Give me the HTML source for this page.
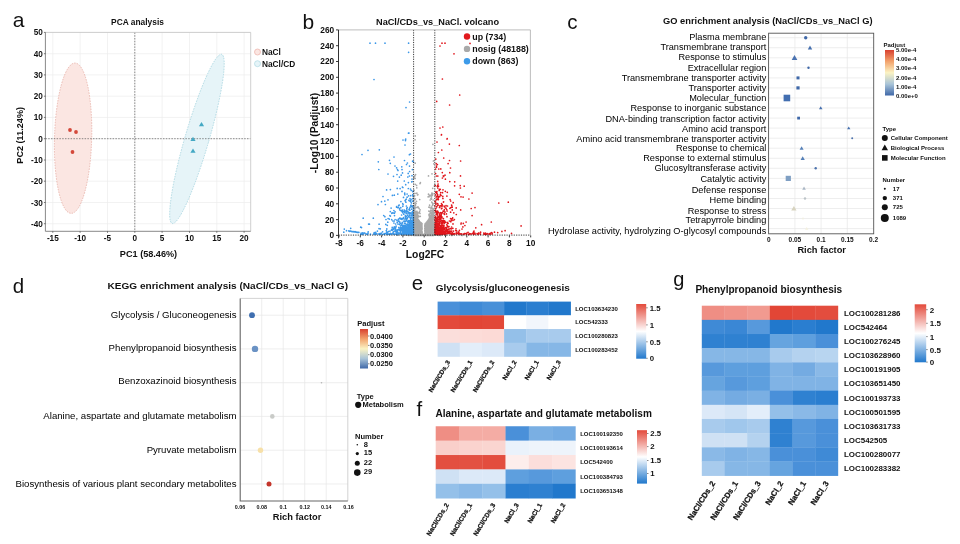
<!DOCTYPE html>
<html lang="en"><head><meta charset="utf-8"><title>Figure</title>
<style>
html,body{margin:0;padding:0;background:#fff;}
body{width:960px;height:544px;overflow:hidden;}
svg{display:block;font-family:"Liberation Sans",Arial,sans-serif;}
</style></head><body>
<svg width="960" height="544" viewBox="0 0 960 544">
<rect width="960" height="544" fill="#fff"/>
<defs>
<linearGradient id="gc" x1="0" y1="0" x2="0" y2="1"><stop offset="0" stop-color="#d8402f"/><stop offset=".25" stop-color="#f2a26c"/><stop offset=".5" stop-color="#fbf3c4"/><stop offset=".75" stop-color="#a9c4d8"/><stop offset="1" stop-color="#3f68a8"/></linearGradient>
<linearGradient id="gd" x1="0" y1="0" x2="0" y2="1"><stop offset="0" stop-color="#d8402f"/><stop offset=".25" stop-color="#f2a26c"/><stop offset=".5" stop-color="#fbf3c4"/><stop offset=".75" stop-color="#a9c4d8"/><stop offset="1" stop-color="#3f68a8"/></linearGradient>
<linearGradient id="gh" x1="0" y1="0" x2="0" y2="1"><stop offset="0" stop-color="#e34a3b"/><stop offset=".5" stop-color="#ffffff"/><stop offset="1" stop-color="#2178cc"/></linearGradient>
</defs>
<text x="12.8" y="26.8" font-size="21" fill="#111">a</text>
<text x="137.5" y="25.3" font-size="8.4" font-weight="bold" text-anchor="middle" fill="#111">PCA analysis</text>
<rect x="45.4" y="32.4" width="205.29999999999998" height="198.9" fill="#fff" stroke="none"/>
<path d="M52.8 32.4V231.3M80.1 32.4V231.3M107.5 32.4V231.3M134.8 32.4V231.3M162.1 32.4V231.3M189.5 32.4V231.3M216.8 32.4V231.3M244.1 32.4V231.3M45.4 223.7H250.7M45.4 202.5H250.7M45.4 181.2H250.7M45.4 160.0H250.7M45.4 138.7H250.7M45.4 117.4H250.7M45.4 96.2H250.7M45.4 74.9H250.7M45.4 53.7H250.7M45.4 32.4H250.7" stroke="#ececec" stroke-width=".7" fill="none"/>
<ellipse cx="73.1" cy="138.2" rx="18.6" ry="75.2" transform="rotate(1.5 73.1 138.2)" fill="#fbe6e2" stroke="#e2a49b" stroke-width=".7" stroke-dasharray="1.5 1.2"/>
<ellipse cx="196.95" cy="138.9" rx="12" ry="88.1" transform="rotate(16.3 196.95 138.9)" fill="#e6f4f8" stroke="#9ed0dc" stroke-width=".7" stroke-dasharray="1.5 1.2"/>
<path d="M134.8 32.4V231.3M45.4 138.7H250.7" stroke="#5a5a5a" stroke-width=".7" stroke-dasharray="1.5 1.3" fill="none"/>
<path d="M45.4 32.4H250.7V231.3" stroke="#c4c4c4" stroke-width=".8" fill="none"/>
<path d="M45.4 32.4V231.3H250.7" stroke="#6a6a6a" stroke-width=".8" fill="none"/>
<text x="52.8" y="241" font-size="8.2" font-weight="bold" text-anchor="middle" fill="#111">-15</text>
<text x="80.1" y="241" font-size="8.2" font-weight="bold" text-anchor="middle" fill="#111">-10</text>
<text x="107.5" y="241" font-size="8.2" font-weight="bold" text-anchor="middle" fill="#111">-5</text>
<text x="134.8" y="241" font-size="8.2" font-weight="bold" text-anchor="middle" fill="#111">0</text>
<text x="162.1" y="241" font-size="8.2" font-weight="bold" text-anchor="middle" fill="#111">5</text>
<text x="189.5" y="241" font-size="8.2" font-weight="bold" text-anchor="middle" fill="#111">10</text>
<text x="216.8" y="241" font-size="8.2" font-weight="bold" text-anchor="middle" fill="#111">15</text>
<text x="244.1" y="241" font-size="8.2" font-weight="bold" text-anchor="middle" fill="#111">20</text>
<text x="42.8" y="226.7" font-size="8.2" font-weight="bold" text-anchor="end" fill="#111">-40</text>
<text x="42.8" y="205.5" font-size="8.2" font-weight="bold" text-anchor="end" fill="#111">-30</text>
<text x="42.8" y="184.2" font-size="8.2" font-weight="bold" text-anchor="end" fill="#111">-20</text>
<text x="42.8" y="163.0" font-size="8.2" font-weight="bold" text-anchor="end" fill="#111">-10</text>
<text x="42.8" y="141.7" font-size="8.2" font-weight="bold" text-anchor="end" fill="#111">0</text>
<text x="42.8" y="120.4" font-size="8.2" font-weight="bold" text-anchor="end" fill="#111">10</text>
<text x="42.8" y="99.2" font-size="8.2" font-weight="bold" text-anchor="end" fill="#111">20</text>
<text x="42.8" y="77.9" font-size="8.2" font-weight="bold" text-anchor="end" fill="#111">30</text>
<text x="42.8" y="56.7" font-size="8.2" font-weight="bold" text-anchor="end" fill="#111">40</text>
<text x="42.8" y="35.4" font-size="8.2" font-weight="bold" text-anchor="end" fill="#111">50</text>
<path d="M52.8 231.3v1.5M80.1 231.3v1.5M107.5 231.3v1.5M134.8 231.3v1.5M162.1 231.3v1.5M189.5 231.3v1.5M216.8 231.3v1.5M244.1 231.3v1.5M45.4 223.7h-1.5M45.4 202.5h-1.5M45.4 181.2h-1.5M45.4 160.0h-1.5M45.4 138.7h-1.5M45.4 117.4h-1.5M45.4 96.2h-1.5M45.4 74.9h-1.5M45.4 53.7h-1.5M45.4 32.4h-1.5" stroke="#444" stroke-width=".7" fill="none"/>
<text x="148.5" y="257.2" font-size="9.15" font-weight="bold" text-anchor="middle" fill="#111">PC1 (58.46%)</text>
<text transform="translate(23.3 135.3) rotate(-90)" font-size="9.15" font-weight="bold" text-anchor="middle" fill="#111">PC2 (11.24%)</text>
<circle cx="70" cy="130" r="1.9" fill="#d4483a"/>
<circle cx="76" cy="132" r="1.9" fill="#d4483a"/>
<circle cx="72.5" cy="152" r="1.9" fill="#d4483a"/>
<path d="M201.5 121.9l2.6 4.4h-5.2z" fill="#45a9c4"/>
<path d="M193 136.70000000000002l2.6 4.4h-5.2z" fill="#45a9c4"/>
<path d="M193 148.4l2.6 4.4h-5.2z" fill="#45a9c4"/>
<circle cx="257.5" cy="52" r="3" fill="#fbe6e2" stroke="#ecb0a8" stroke-width=".7"/>
<circle cx="257.5" cy="63.7" r="3" fill="#e6f4f8" stroke="#aed8e2" stroke-width=".7"/>
<text x="262" y="55" font-size="8.3" font-weight="bold" fill="#111">NaCl</text>
<text x="262" y="66.7" font-size="8.3" font-weight="bold" fill="#111">NaCl/CD</text>
<text x="302.4" y="29.4" font-size="21" fill="#111">b</text>
<text x="376" y="25.3" font-size="9.18" font-weight="bold" fill="#111" textLength="123" lengthAdjust="spacingAndGlyphs">NaCl/CDs_vs_NaCl. volcano</text>
<rect x="338.5" y="29.9" width="191.89999999999998" height="205.5" fill="#fff" stroke="none"/>
<path d="M417.4 219.5h0M430.8 233.3h0M422.1 233.6h0M416.9 233.6h0M432.0 216.2h0M415.0 220.8h0M430.1 231.9h0M417.3 231.8h0M430.3 234.3h0M413.8 232.5h0M417.8 229.1h0M418.8 234.7h0M417.4 235.4h0M428.2 224.7h0M432.6 224.3h0M428.5 224.0h0M418.4 224.3h0M432.0 217.2h0M426.3 226.5h0M429.5 221.9h0M416.5 218.1h0M431.2 220.6h0M432.8 221.5h0M430.0 218.3h0M427.5 234.8h0M427.3 230.9h0M424.8 233.4h0M429.7 223.2h0M426.2 226.9h0M426.0 228.0h0M417.2 227.2h0M427.7 223.3h0M432.0 212.5h0M413.6 234.8h0M432.1 214.2h0M416.5 218.4h0M415.5 223.8h0M421.2 234.9h0M416.3 221.2h0M429.7 230.8h0M415.0 213.3h0M414.7 229.3h0M433.1 217.4h0M428.0 221.1h0M427.7 227.8h0M428.6 234.8h0M431.1 218.9h0M414.5 234.9h0M428.6 227.7h0M421.7 224.9h0M426.6 223.4h0M417.2 221.6h0M416.9 217.0h0M415.0 223.7h0M416.4 234.3h0M431.4 234.0h0M421.2 233.6h0M430.3 225.1h0M416.1 216.3h0M417.1 223.5h0M414.6 222.2h0M413.9 232.8h0M427.2 221.5h0M421.9 225.3h0M417.9 226.6h0M419.2 228.5h0M420.7 226.8h0M413.6 226.0h0M417.0 234.2h0M432.7 223.6h0M430.9 216.8h0M431.7 225.3h0M415.4 228.5h0M421.7 231.7h0M432.2 226.3h0M417.4 226.1h0M432.2 226.1h0M425.9 230.2h0M426.2 235.2h0M419.8 228.0h0M419.6 223.6h0M415.3 232.8h0M420.5 233.5h0M430.2 229.2h0M414.7 215.6h0M421.3 223.8h0M417.8 235.4h0M430.6 235.3h0M417.9 234.8h0M426.2 230.3h0M415.3 233.9h0M415.6 220.4h0M425.7 223.3h0M417.0 229.0h0M417.3 220.5h0M421.5 235.3h0M421.5 233.4h0M430.9 235.1h0M428.2 224.5h0M429.6 227.0h0M418.1 221.8h0M414.1 217.9h0M415.1 222.0h0M432.1 225.4h0M413.7 216.1h0M432.6 226.6h0M417.2 221.1h0M431.5 227.6h0M431.2 225.3h0M430.0 232.9h0M420.5 224.0h0M429.7 228.4h0M431.1 228.7h0M431.8 214.2h0M413.6 232.7h0M427.3 235.2h0M431.8 220.1h0M430.3 217.4h0M420.6 230.3h0M429.4 219.1h0M414.4 231.7h0M425.6 227.9h0M414.6 212.2h0M431.5 234.0h0M425.7 226.3h0M418.3 232.2h0M421.4 233.4h0M433.0 220.1h0M432.8 225.5h0M415.8 223.5h0M426.9 232.7h0M432.7 234.5h0M417.6 222.2h0M425.9 226.7h0M419.1 234.9h0M431.0 231.3h0M419.5 233.6h0M430.6 227.3h0M418.1 219.6h0M432.2 223.5h0M413.7 233.5h0M431.7 223.2h0M430.6 234.3h0M433.0 220.0h0M432.6 211.9h0M419.5 227.0h0M430.7 217.5h0M421.0 229.3h0M418.3 221.0h0M430.9 222.3h0M426.6 224.0h0M415.5 223.4h0M421.7 231.6h0M433.0 222.2h0M417.3 225.2h0M427.6 223.5h0M414.6 228.7h0M426.3 229.4h0M415.4 231.8h0M421.8 229.6h0M414.7 225.9h0M418.5 228.8h0M416.9 235.1h0M413.9 210.0h0M416.8 235.4h0M421.9 234.0h0M433.1 211.5h0M425.9 228.8h0M432.7 211.4h0M417.8 226.6h0M430.3 235.1h0M430.9 221.2h0M429.6 219.2h0M415.2 214.3h0M417.7 234.4h0M414.6 235.2h0M430.8 232.1h0M415.0 221.5h0M415.0 216.1h0M433.3 212.6h0M431.5 218.1h0M414.6 216.0h0M413.7 210.8h0M419.9 223.9h0M426.8 233.8h0M430.6 233.0h0M417.3 224.7h0M420.6 226.7h0M432.8 225.5h0M432.0 214.4h0M418.7 221.6h0M414.7 234.5h0M431.4 215.1h0M428.9 225.4h0M416.8 227.4h0M425.3 233.9h0M421.7 233.9h0M425.2 231.4h0M430.6 233.7h0M419.4 225.2h0M428.9 229.2h0M420.9 227.9h0M427.7 229.4h0M428.9 227.7h0M415.8 232.3h0M421.9 233.5h0M430.5 227.1h0M431.2 228.7h0M429.7 218.5h0M414.5 231.5h0M415.1 235.0h0M427.7 231.8h0M414.5 224.5h0M417.6 228.4h0M428.9 228.9h0M428.9 230.7h0M420.1 233.5h0M432.2 213.8h0M430.4 234.8h0M430.0 220.4h0M417.5 222.8h0M429.8 233.9h0M427.1 230.8h0M419.2 223.0h0M419.0 228.8h0M416.1 224.4h0M425.1 229.2h0M430.9 215.3h0M425.8 229.2h0M414.6 216.4h0M432.7 234.1h0M432.2 223.5h0M430.4 228.3h0M415.2 216.5h0M428.5 224.1h0M429.0 219.4h0M432.8 213.3h0M429.2 234.6h0M420.9 229.5h0M429.0 234.2h0M431.9 232.9h0M430.2 219.5h0M416.1 220.7h0M428.9 223.1h0M419.7 225.3h0M414.4 234.3h0M415.7 222.0h0M428.4 233.2h0M430.0 226.9h0M431.8 220.0h0M428.0 232.0h0M425.9 230.3h0M419.5 221.8h0M430.1 217.2h0M420.2 232.7h0M426.7 229.8h0M427.8 235.0h0M426.2 226.8h0M421.3 232.9h0M413.9 225.4h0M414.6 225.0h0M428.6 235.0h0M426.9 225.8h0M427.2 235.3h0M425.5 231.7h0M416.6 225.4h0M417.6 232.5h0M418.2 222.4h0M426.9 226.9h0M433.2 234.4h0M421.2 233.3h0M432.3 213.1h0M414.0 235.0h0M428.7 220.4h0M428.0 230.4h0M432.4 231.6h0M417.3 220.5h0M417.9 224.3h0M418.4 229.1h0M414.3 230.7h0M419.2 221.7h0M429.1 234.2h0M416.0 230.7h0M417.5 223.5h0M427.7 234.1h0M428.2 230.2h0M414.1 222.3h0M430.4 224.9h0M429.4 233.6h0M425.1 234.5h0M418.3 220.3h0M418.4 221.8h0M420.9 224.6h0M431.9 229.5h0M431.1 224.4h0M417.4 231.4h0M416.2 230.9h0M433.3 218.6h0M420.4 226.5h0M420.4 226.1h0M416.8 226.9h0M427.6 224.7h0M430.5 221.6h0M432.3 228.6h0M426.1 225.7h0M420.2 222.5h0M416.5 230.9h0M429.6 221.3h0M429.1 221.0h0M429.2 219.7h0M429.6 235.2h0M432.6 217.3h0M428.6 235.1h0M426.1 223.9h0M432.3 221.0h0M427.9 235.1h0M432.8 234.7h0M414.9 232.1h0M419.2 226.6h0M429.8 233.8h0M430.8 218.7h0M430.1 234.3h0M414.4 224.9h0M426.1 227.5h0M429.8 224.2h0M425.1 226.8h0M414.8 219.0h0M415.3 232.9h0M418.0 220.2h0M416.7 222.4h0M425.3 229.5h0M414.9 229.1h0M425.0 231.2h0M415.4 224.0h0M415.6 235.4h0M427.1 234.2h0M416.8 233.8h0M415.8 219.0h0M432.4 228.6h0M416.5 224.2h0M418.3 222.6h0M426.9 228.6h0M430.7 232.9h0M418.5 226.5h0M419.3 234.0h0M418.8 233.4h0M429.4 232.7h0M414.6 222.1h0M430.1 221.8h0M432.5 216.2h0M428.7 234.5h0M416.4 228.4h0M433.3 234.4h0M414.9 226.1h0M418.4 232.3h0M428.5 235.3h0M414.5 224.2h0M419.3 224.7h0M432.1 217.7h0M431.5 217.2h0M417.8 220.4h0M427.9 222.3h0M429.0 232.4h0M426.8 229.4h0M429.5 222.9h0M415.1 233.2h0M428.9 223.7h0M417.2 222.2h0M428.3 235.3h0M431.6 232.6h0M426.1 226.3h0M432.4 228.2h0M430.3 225.3h0M431.3 216.7h0M415.6 221.3h0M414.1 232.3h0M420.2 222.7h0M432.8 220.4h0M417.2 233.8h0M427.5 232.2h0M418.4 222.6h0M428.7 234.9h0M432.9 213.6h0M431.9 216.6h0M414.4 213.5h0M420.6 223.2h0M414.5 217.8h0M414.9 221.4h0M414.3 232.0h0M425.6 224.3h0M425.1 225.7h0M432.9 232.2h0M413.7 220.1h0M414.4 223.8h0M416.9 233.6h0M431.2 219.6h0M414.0 217.4h0M430.5 219.0h0M427.0 227.2h0M431.4 225.5h0M429.9 224.0h0M417.5 219.0h0M432.2 222.3h0M432.3 215.8h0M415.3 232.1h0M432.6 214.6h0M421.0 231.9h0M428.8 235.0h0M428.6 229.6h0M420.3 235.1h0M427.4 229.7h0M428.4 234.9h0M414.0 220.5h0M416.9 226.7h0M418.3 234.6h0M432.8 235.1h0M421.5 225.4h0M417.8 229.9h0M428.0 232.6h0M431.3 216.9h0M421.3 235.1h0M420.4 234.4h0M428.0 233.7h0M428.5 228.6h0M420.0 229.2h0M415.4 216.7h0M428.1 226.5h0M432.5 231.7h0M433.2 210.2h0M419.8 233.3h0M417.7 235.2h0M426.5 232.4h0M421.1 225.4h0M428.7 227.1h0M431.4 231.9h0M426.8 232.7h0M426.7 230.5h0M418.1 222.9h0M427.1 226.8h0M429.7 235.1h0M429.1 228.5h0M421.7 235.1h0M431.5 222.1h0M430.4 218.5h0M430.1 225.7h0M414.3 217.6h0M427.9 226.1h0M414.6 227.8h0M432.4 223.7h0M418.5 234.2h0M421.6 233.7h0M419.9 221.8h0M420.7 234.8h0M430.8 235.1h0M418.2 227.7h0M427.8 221.9h0M420.7 224.1h0M416.3 230.6h0M414.9 231.9h0M433.1 231.0h0M431.5 233.9h0M417.2 222.4h0M431.0 228.9h0M426.4 227.9h0M414.2 215.8h0M429.4 227.0h0M416.1 221.6h0M429.7 219.3h0M431.0 235.0h0M427.6 235.0h0M414.6 235.4h0M432.2 228.3h0M426.8 232.5h0M429.2 233.7h0M426.9 229.7h0M421.1 229.4h0M413.8 210.7h0M415.1 213.2h0M432.3 212.6h0M416.0 230.8h0M421.3 223.3h0M419.2 232.3h0M417.1 234.0h0M429.1 226.2h0M420.7 233.3h0M433.0 222.5h0M427.6 222.3h0M417.8 232.3h0M417.7 231.2h0M426.6 230.5h0M428.2 225.4h0M429.1 223.0h0M415.0 229.8h0M427.7 234.6h0M421.1 225.1h0M421.8 232.5h0M429.5 233.0h0M415.9 228.4h0M433.3 217.5h0M418.9 229.6h0M413.8 233.2h0M425.3 224.4h0M430.5 225.5h0M413.7 217.6h0M432.1 218.0h0M416.1 215.8h0M415.6 228.8h0M417.5 234.0h0M414.5 228.6h0M417.7 232.6h0M413.6 234.3h0M428.5 231.9h0M415.4 233.0h0M417.5 227.6h0M425.4 232.0h0M432.0 218.5h0M425.8 234.3h0M418.4 233.6h0M432.4 233.0h0M417.5 220.4h0M428.4 232.9h0M430.8 230.9h0M431.5 217.5h0M419.9 225.0h0M415.8 223.5h0M421.0 224.9h0M427.3 225.9h0M432.6 230.7h0M425.4 233.3h0M428.9 222.0h0M419.9 226.9h0M418.0 227.0h0M431.4 228.1h0M430.8 234.4h0M418.6 223.7h0M421.8 225.7h0M432.4 216.0h0M429.0 233.1h0M418.1 235.3h0M425.2 235.3h0M429.6 218.8h0M420.4 222.6h0M432.0 214.9h0M416.8 227.4h0M416.9 231.5h0M429.9 233.2h0M417.7 228.6h0M417.8 224.1h0M431.8 234.8h0M428.9 230.6h0M415.7 224.3h0M413.6 231.8h0M427.1 223.1h0M426.4 234.9h0M416.1 227.8h0M427.1 227.5h0M427.9 228.8h0M427.7 231.7h0M416.0 222.5h0M426.5 234.8h0M419.2 231.0h0M429.9 220.0h0M425.8 234.4h0M429.9 219.0h0M428.0 223.5h0M420.5 233.5h0M414.1 231.7h0M415.7 224.9h0M426.2 223.3h0M413.9 211.8h0M426.7 224.2h0M414.2 214.7h0M425.9 230.0h0M416.0 222.6h0M431.0 235.3h0M431.8 227.9h0M432.1 231.2h0M414.8 231.8h0M418.7 231.3h0M432.6 228.0h0M432.2 234.7h0M418.9 225.3h0M432.4 229.3h0M414.3 214.1h0M425.6 234.9h0M413.7 218.2h0M425.8 230.8h0M432.4 223.7h0M427.3 233.8h0M418.3 226.5h0M427.8 232.7h0M432.9 230.5h0M427.1 224.1h0M420.5 235.0h0M419.5 224.3h0M425.3 234.2h0M433.2 233.3h0M415.7 219.7h0M418.6 235.4h0M432.0 217.8h0M416.8 222.1h0M414.7 228.9h0M429.5 218.5h0M419.1 225.4h0M428.1 230.2h0M429.5 226.0h0M414.1 226.9h0M421.7 233.2h0M428.3 228.2h0M430.2 223.6h0M433.3 230.8h0M425.2 230.8h0M428.1 220.5h0M425.8 223.6h0M430.1 234.9h0M429.1 218.7h0M415.2 220.8h0M415.4 218.4h0M419.1 233.1h0M432.6 219.5h0M430.0 222.5h0M421.6 227.4h0M425.8 228.9h0M414.5 216.6h0M430.8 224.3h0M431.4 233.0h0M418.6 223.4h0M417.7 227.5h0M414.9 219.8h0M415.7 234.8h0M420.1 232.4h0M429.1 232.2h0M414.4 227.9h0M429.6 228.9h0M414.0 229.0h0M413.7 230.8h0M417.3 220.7h0M413.6 218.8h0M415.5 232.6h0M420.9 224.9h0M427.4 229.4h0M430.9 218.2h0M426.0 224.2h0M429.6 234.0h0M416.1 223.4h0M420.6 223.0h0M419.4 227.9h0M415.2 232.5h0M425.5 229.5h0M430.3 223.5h0M429.9 228.3h0M429.9 219.9h0M419.9 223.9h0M421.5 228.0h0M414.0 215.5h0M425.8 232.3h0M414.9 235.2h0M419.3 229.6h0M414.2 231.6h0M425.7 232.6h0M417.3 227.7h0M426.6 233.0h0M421.7 235.3h0M430.3 223.5h0M430.1 222.4h0M431.3 215.8h0M415.7 224.7h0M416.8 221.1h0M421.3 235.1h0M429.0 228.4h0M433.2 232.7h0M427.5 235.1h0M419.7 232.1h0M425.1 227.5h0M414.7 230.1h0M428.1 234.2h0M418.9 227.3h0M426.8 230.9h0M432.1 216.3h0M419.1 235.2h0M419.8 222.9h0M414.3 233.8h0M414.8 216.9h0M429.5 234.6h0M428.6 223.5h0M418.5 232.4h0M419.4 234.0h0M416.7 217.7h0M429.0 235.3h0M432.6 211.6h0M419.1 226.9h0M421.1 228.6h0M432.7 216.5h0M430.4 234.1h0M413.6 221.6h0M418.1 222.8h0M432.9 213.3h0M422.0 234.0h0M417.0 220.5h0M415.8 218.1h0M431.6 234.0h0M427.3 229.9h0M431.6 225.5h0M432.7 215.9h0M433.2 233.3h0M413.7 211.2h0M414.3 218.2h0M419.8 235.3h0M413.7 227.8h0M428.8 230.0h0M431.2 216.8h0M430.7 222.4h0M429.8 219.0h0M425.2 226.2h0M418.1 222.6h0M425.9 228.6h0M426.9 229.7h0M426.7 232.6h0M430.0 221.0h0M430.1 219.9h0M421.2 223.9h0M416.3 222.9h0M428.1 221.7h0M419.0 220.7h0M416.2 220.1h0M417.8 226.7h0M417.5 230.2h0M421.5 229.0h0M428.4 219.8h0M418.2 233.7h0M427.8 225.3h0M419.3 229.9h0M431.9 226.2h0M426.1 230.8h0M414.8 230.8h0M418.3 234.7h0M420.6 224.8h0M432.8 224.9h0M425.8 224.1h0M419.4 223.6h0M415.3 217.9h0M426.5 227.5h0M425.1 234.4h0M429.3 227.5h0M429.6 232.2h0M431.6 220.0h0M425.5 223.3h0M430.8 219.8h0M430.1 222.5h0M427.8 224.3h0M431.6 232.4h0M428.9 221.1h0M421.3 223.5h0M430.9 222.2h0M416.3 234.7h0M415.6 232.0h0M427.4 234.9h0M420.1 228.1h0M431.1 230.4h0M414.0 214.3h0M433.0 213.6h0M420.5 222.4h0M429.1 224.5h0M428.1 226.8h0M419.7 232.1h0M432.4 217.2h0M421.9 229.0h0M419.7 229.9h0M415.2 220.5h0M414.5 215.1h0M416.4 218.0h0M419.6 230.8h0M419.9 223.8h0M432.9 222.8h0M431.1 225.7h0M428.0 229.2h0M430.8 223.5h0M421.2 234.1h0M431.4 216.5h0M427.3 233.0h0M413.6 209.7h0M417.1 229.2h0M431.6 228.0h0M432.6 216.7h0M425.9 225.1h0M421.1 225.3h0M428.3 232.1h0M431.5 220.1h0M415.3 214.1h0M425.4 226.0h0M430.3 233.9h0M430.3 227.1h0M427.0 230.9h0M414.3 210.9h0M419.2 230.0h0M429.4 234.5h0M426.8 232.9h0M432.5 214.0h0M413.7 235.3h0M427.8 231.2h0M416.5 218.3h0M416.8 228.0h0M430.0 231.3h0M429.6 234.3h0M417.0 231.7h0M418.1 232.5h0M416.9 226.4h0M427.6 225.5h0M418.4 226.8h0M418.2 223.8h0M430.7 230.3h0M429.6 228.6h0M426.0 233.9h0M432.8 219.8h0M429.3 222.5h0M432.6 210.9h0M427.1 234.5h0M416.9 227.7h0M426.7 232.4h0M419.3 231.0h0M426.7 223.2h0M414.2 229.8h0M429.6 230.1h0M417.9 231.4h0M418.2 232.1h0M418.4 223.2h0M429.8 231.0h0M418.6 225.6h0M432.0 218.3h0M421.9 234.3h0M414.3 225.8h0M417.0 233.6h0M428.4 228.7h0M421.2 231.6h0M415.8 231.8h0M431.5 215.5h0M416.1 216.2h0M418.8 228.2h0M430.5 231.2h0M419.3 231.5h0M418.4 220.4h0M416.2 223.4h0M429.7 219.4h0M431.8 218.1h0M433.3 211.1h0M415.3 219.3h0M427.9 235.1h0M419.2 220.9h0M429.0 231.7h0M426.7 225.8h0M416.2 229.7h0M431.5 224.6h0M414.7 233.1h0M427.5 227.8h0M419.1 233.8h0M432.1 235.2h0M428.2 234.0h0M432.2 213.7h0M420.1 235.4h0M421.5 227.5h0M417.9 226.5h0M421.3 232.4h0M421.5 232.5h0M418.5 235.3h0M413.6 209.1h0M420.5 223.2h0M415.0 225.0h0M426.9 230.7h0M415.3 232.8h0M428.0 235.1h0M429.5 228.7h0M429.0 220.4h0M430.7 224.5h0M432.3 214.4h0M426.1 231.0h0M419.8 221.8h0M418.8 225.3h0M431.8 229.4h0M430.1 232.3h0M430.6 229.3h0M426.6 233.2h0M419.8 231.7h0M414.0 231.3h0M427.0 229.0h0M415.5 214.5h0M418.5 220.7h0M418.6 233.6h0M429.3 233.3h0M429.7 222.6h0M430.1 235.3h0M418.3 230.4h0M428.6 222.2h0M430.0 221.3h0M413.7 220.5h0M428.6 224.5h0M432.5 211.6h0M433.3 214.1h0M416.6 228.0h0M420.3 230.0h0M430.8 233.2h0M418.5 230.2h0M421.8 231.6h0M431.4 218.1h0M415.2 225.9h0M415.7 215.9h0M420.3 230.6h0M428.4 221.2h0M415.6 228.8h0M417.0 219.8h0M431.3 226.5h0M415.4 220.6h0M420.6 222.7h0M415.3 232.4h0M421.9 223.6h0M427.5 227.4h0M430.2 225.4h0M413.7 219.0h0M429.8 233.3h0M417.2 226.1h0M427.0 227.4h0M415.2 222.6h0M421.9 226.2h0M431.2 233.1h0M431.9 228.9h0M414.4 214.8h0M426.9 233.2h0M415.3 232.5h0M426.5 233.6h0M427.2 225.4h0M417.8 223.3h0M429.4 233.6h0M433.2 217.8h0M415.2 214.8h0M414.4 234.0h0M417.8 229.3h0M431.9 214.5h0M433.0 218.8h0M431.5 217.6h0M425.5 231.0h0M430.1 219.2h0M415.9 233.4h0M431.0 220.4h0M413.6 234.3h0M430.4 225.8h0M429.0 232.4h0M426.9 228.0h0M414.2 221.4h0M415.1 217.2h0M428.7 231.0h0M417.7 234.5h0M429.6 218.4h0M427.2 233.3h0M417.4 219.7h0M417.8 221.8h0M421.3 224.1h0M431.4 222.1h0M421.3 227.5h0M413.9 222.6h0M419.5 227.1h0M421.3 226.7h0M414.2 235.0h0M431.6 233.5h0M432.0 232.8h0M429.0 235.4h0M430.6 230.9h0M425.7 233.9h0M415.2 235.3h0M417.7 229.8h0M432.1 224.6h0M427.8 229.8h0M421.2 235.0h0M429.4 230.0h0M415.7 232.8h0M430.5 235.3h0M414.8 213.5h0M416.7 226.6h0M416.8 228.8h0M430.4 222.4h0M415.8 229.4h0M431.4 215.6h0M415.3 223.8h0M418.3 221.9h0M420.0 222.5h0M420.4 235.4h0M416.0 234.1h0M416.7 229.6h0M430.3 232.6h0M418.2 226.1h0M430.7 230.8h0M418.9 222.5h0M432.6 222.0h0M430.6 220.9h0M425.2 229.7h0M431.4 234.6h0M417.9 220.2h0M432.3 232.4h0M415.3 221.3h0M433.0 227.2h0M431.7 215.1h0M415.6 217.6h0M420.3 228.3h0M415.8 219.6h0M419.9 231.0h0M420.2 227.7h0M415.4 226.6h0M413.8 219.2h0M431.4 229.0h0M427.4 234.9h0M432.0 230.4h0M419.7 226.6h0M415.3 231.0h0M432.4 218.4h0M431.3 233.6h0M416.6 229.4h0M430.9 232.8h0M430.4 219.9h0M426.5 229.7h0M430.6 224.4h0M416.0 226.4h0M422.0 235.2h0M427.8 228.5h0M431.6 223.9h0M419.3 234.0h0M426.9 231.3h0M428.1 223.7h0M429.8 234.2h0M417.5 224.2h0M428.9 226.1h0M421.3 224.2h0M427.8 226.4h0M425.7 224.0h0M415.0 214.5h0M429.7 223.4h0M432.8 219.3h0M416.1 223.5h0M429.4 224.9h0M429.1 222.7h0M414.6 232.8h0M420.3 230.1h0M428.0 235.4h0M430.3 232.7h0M415.1 227.0h0M413.8 226.1h0M418.3 224.9h0M419.4 226.9h0M416.1 224.2h0M417.2 229.6h0M415.8 226.8h0M417.8 232.4h0M428.8 222.8h0M432.3 234.3h0M431.1 229.0h0M429.4 218.5h0M432.2 229.4h0M431.3 222.1h0M429.2 230.1h0M415.8 214.7h0M432.8 221.5h0M416.7 228.5h0M420.3 227.2h0M420.3 228.2h0M416.2 225.4h0M426.3 227.6h0M420.7 229.2h0M417.4 225.8h0M432.1 216.9h0M433.0 217.1h0M432.0 227.1h0M420.7 224.3h0M420.0 229.8h0M430.3 216.7h0M429.2 233.8h0M427.4 228.0h0M431.0 218.8h0M422.1 231.9h0M430.5 233.7h0M432.8 217.1h0M432.7 230.5h0M431.8 216.4h0M415.2 227.0h0M433.3 219.3h0M432.5 224.5h0M428.8 232.1h0M421.4 228.4h0M415.5 233.5h0M415.1 227.1h0M414.3 220.3h0M430.6 230.8h0M419.1 232.8h0M416.6 219.0h0M417.5 227.7h0M420.6 231.1h0M414.3 211.7h0M416.2 234.7h0M431.9 229.6h0M415.3 231.9h0M425.5 234.0h0M427.3 226.8h0M430.7 216.9h0M420.2 225.2h0M417.4 232.1h0M427.5 228.0h0M428.8 219.7h0M425.7 225.4h0M419.1 232.4h0M430.0 234.9h0M430.8 217.2h0M430.4 217.6h0M430.1 228.9h0M414.8 233.5h0M433.2 212.6h0M429.9 232.7h0M414.5 231.3h0M418.7 234.0h0M433.0 228.3h0M427.5 225.0h0M416.7 233.7h0M414.8 214.2h0M427.4 225.9h0M428.9 228.7h0M420.8 224.1h0M432.7 210.8h0M430.2 219.7h0M420.7 225.1h0M425.8 227.0h0M415.7 232.3h0M421.2 226.1h0M429.2 227.7h0M419.7 231.6h0M414.4 220.3h0M415.5 231.8h0M429.8 231.5h0M419.7 230.7h0M427.6 222.9h0M431.3 231.4h0M432.2 216.2h0M429.8 234.7h0M420.0 234.7h0M419.5 223.3h0M433.3 221.1h0M432.3 224.2h0M427.3 233.6h0M427.4 225.5h0M421.5 235.0h0M420.4 226.3h0M429.9 223.3h0M430.1 222.6h0M414.5 230.6h0M419.9 222.6h0M428.5 234.5h0M432.0 220.6h0M418.7 227.3h0M416.2 220.7h0M421.8 225.6h0M427.5 234.8h0M416.4 227.8h0M416.5 223.6h0M426.8 224.1h0M421.1 230.8h0M417.9 226.0h0M426.2 224.9h0M425.1 225.7h0M418.5 234.3h0M414.2 233.0h0M415.0 225.4h0M432.4 230.5h0M433.2 213.5h0M426.8 232.9h0M429.3 233.6h0M418.9 225.3h0M413.6 221.4h0M420.1 224.1h0M420.7 225.9h0M429.9 227.9h0M419.5 224.8h0M414.5 227.2h0M432.4 220.1h0M415.6 235.0h0M432.3 218.0h0M419.2 233.1h0M419.3 229.4h0M414.6 219.8h0M420.9 226.6h0M416.2 230.6h0M416.4 228.3h0M425.0 231.2h0M417.1 229.9h0M420.5 222.4h0M432.8 220.7h0M420.8 228.4h0M431.9 223.3h0M427.2 230.7h0M415.7 224.5h0M417.5 224.7h0M414.5 221.5h0M430.3 233.8h0M431.2 217.3h0M429.3 231.6h0M420.0 224.0h0M432.4 222.7h0M425.2 232.6h0M416.2 231.3h0M419.6 230.8h0M414.5 224.5h0M416.3 232.7h0M425.2 223.7h0M426.7 235.2h0M426.6 226.0h0M431.8 234.7h0M431.3 228.8h0M421.3 223.0h0M413.8 217.1h0M418.0 224.9h0M419.6 229.8h0M430.4 223.9h0M421.3 228.9h0M415.3 235.3h0M433.3 229.2h0M419.1 230.3h0M419.6 224.8h0M429.4 222.9h0M430.7 222.2h0M414.1 227.3h0M414.3 220.9h0M416.3 224.9h0M416.5 226.3h0M432.5 211.6h0M428.0 233.7h0M429.8 224.7h0M433.3 215.3h0M432.5 228.6h0M419.2 228.5h0M431.4 235.1h0M421.1 231.3h0M415.0 226.8h0M432.3 216.1h0M415.3 234.6h0M427.5 230.7h0M432.7 232.3h0M417.7 234.6h0M422.0 223.8h0M419.2 230.4h0M420.8 228.5h0M433.3 211.4h0M432.9 226.5h0M432.1 222.5h0M414.1 212.8h0M415.2 232.2h0M417.5 229.2h0M429.1 234.2h0M416.9 218.4h0M426.5 235.4h0M429.3 228.9h0M420.0 231.5h0M416.9 220.9h0M428.9 234.0h0M427.3 224.3h0M432.3 220.1h0M431.2 229.4h0M421.2 222.9h0M425.7 233.8h0M432.9 233.6h0M414.0 213.5h0M415.3 214.1h0M419.4 223.0h0M418.1 223.5h0M420.1 233.4h0M426.6 230.4h0M418.8 223.0h0M418.5 232.6h0M417.3 226.2h0M417.9 235.0h0M427.2 235.0h0M415.9 231.6h0M417.4 228.8h0M433.1 216.6h0M431.2 229.1h0M433.1 227.9h0M433.1 232.0h0M427.4 229.3h0M428.1 234.6h0M431.5 221.5h0M431.7 228.3h0M432.9 219.2h0M430.4 234.3h0M433.1 215.1h0M432.4 218.0h0M416.6 223.6h0M414.7 224.7h0M416.3 227.6h0M425.8 224.6h0M414.2 220.2h0M421.6 224.7h0M431.9 222.7h0M431.8 233.0h0M420.9 230.4h0M415.0 227.3h0M417.0 219.9h0M431.9 234.6h0M433.3 224.4h0M432.6 235.3h0M428.3 235.1h0M416.9 217.9h0M417.5 222.4h0M418.7 226.0h0M416.3 232.9h0M430.5 222.0h0M430.6 218.4h0M416.5 233.1h0M430.8 220.6h0M425.4 232.2h0M415.5 233.8h0M431.4 215.9h0M415.6 220.9h0M431.7 218.1h0M428.3 225.8h0M419.1 232.9h0M413.7 216.9h0M428.3 229.9h0M426.0 227.6h0M430.2 223.2h0M417.8 232.6h0M431.6 216.0h0M414.9 226.1h0M420.9 230.7h0M430.5 218.3h0M418.0 226.8h0M431.5 234.4h0M426.3 227.1h0M428.1 235.3h0M427.2 233.3h0M432.2 215.3h0M430.8 229.3h0M426.2 224.2h0M431.8 223.0h0M429.8 232.6h0M415.2 227.2h0M419.8 229.1h0M422.0 223.5h0M427.0 226.5h0M415.8 214.8h0M416.8 227.8h0M413.6 220.6h0M417.1 225.2h0M428.3 223.3h0M418.0 219.9h0M432.5 223.6h0M429.7 222.7h0M418.1 233.4h0M430.2 219.7h0M418.5 220.8h0M416.9 224.2h0M415.2 222.1h0M418.6 227.8h0M433.2 211.5h0M426.0 230.2h0M421.0 230.4h0M432.1 233.3h0M421.4 233.6h0M426.4 234.3h0M419.2 224.7h0M431.5 219.9h0M419.3 221.1h0M414.7 212.1h0M416.4 230.7h0M430.9 219.1h0M430.3 233.4h0M432.5 234.0h0M432.9 227.0h0M415.7 231.5h0M429.7 224.6h0M425.3 229.6h0M414.9 233.8h0M431.7 228.8h0M421.9 232.4h0M415.0 214.0h0M430.5 234.7h0M419.7 229.7h0M414.1 225.8h0M426.4 234.4h0M417.3 222.0h0M433.2 230.5h0M429.7 227.9h0M414.5 220.7h0M416.3 234.7h0M416.1 234.4h0M414.6 235.3h0M428.4 231.4h0M417.2 228.7h0M419.0 224.9h0M424.8 230.2h0M426.1 232.6h0M413.8 221.9h0M414.1 210.4h0M431.2 228.5h0M429.5 233.7h0M430.9 233.1h0M429.9 219.3h0M429.1 234.0h0M429.6 225.5h0M415.2 220.6h0M431.4 227.9h0M433.2 234.6h0M417.1 231.0h0M420.8 225.6h0M414.0 225.6h0M416.3 216.0h0M413.8 215.3h0M431.0 235.3h0M419.7 230.7h0M426.2 234.7h0M432.0 223.3h0M429.4 225.0h0M426.5 231.3h0M426.7 234.4h0M428.2 231.0h0M416.5 234.3h0M421.1 228.5h0M426.8 226.6h0M418.1 231.5h0M428.8 227.4h0M419.9 233.3h0M417.2 223.8h0M426.8 223.9h0M417.8 225.4h0M420.7 228.9h0M413.9 217.2h0M417.0 230.5h0M427.8 228.8h0M417.3 232.3h0M433.1 229.4h0M420.4 224.5h0M427.6 232.5h0M414.2 230.5h0M417.5 221.4h0M415.4 224.6h0M419.0 230.5h0M421.3 232.4h0M416.8 226.9h0M419.3 224.0h0M416.5 223.5h0M417.7 221.1h0M427.9 231.4h0M415.4 230.9h0M427.4 228.2h0M432.1 235.4h0M414.1 213.2h0M418.3 229.8h0M416.4 221.0h0M433.2 234.5h0M427.2 227.2h0M414.2 211.0h0M421.2 223.2h0M418.8 228.8h0M416.1 228.1h0M428.4 221.6h0M421.2 233.6h0M419.4 231.5h0M429.1 234.4h0M420.1 233.0h0M420.3 230.2h0M430.3 226.6h0M414.2 216.1h0M415.7 231.8h0M421.9 225.6h0M428.0 234.1h0M426.2 226.6h0M427.7 231.4h0M430.3 226.3h0M419.4 222.5h0M420.4 235.0h0M418.8 232.4h0M429.8 231.3h0M418.8 235.3h0M414.4 220.2h0M425.0 233.4h0M427.2 230.9h0M416.6 230.6h0M429.5 224.7h0M417.2 233.1h0M427.3 230.9h0M419.0 230.5h0M432.7 221.2h0M425.9 233.7h0M421.5 235.0h0M417.6 226.9h0M417.8 230.2h0M430.3 233.5h0M431.8 233.5h0M428.7 219.5h0M417.1 222.0h0M429.5 234.5h0M414.0 221.4h0M418.9 230.1h0M418.5 231.7h0M427.8 231.7h0M415.8 234.3h0M432.7 233.5h0M414.1 214.8h0M428.1 226.4h0M432.2 222.2h0M425.8 228.5h0M426.2 223.7h0M426.7 226.9h0M430.3 229.2h0M428.9 232.6h0M421.7 230.5h0M431.1 231.3h0M430.6 229.4h0M418.2 235.3h0M428.0 233.9h0M417.3 223.6h0M419.6 234.5h0M426.3 233.3h0M416.6 229.2h0M419.5 226.7h0M428.1 222.1h0M421.0 225.3h0M424.8 228.4h0M416.5 217.4h0M427.1 230.9h0M426.8 223.6h0M429.2 227.5h0M432.6 226.1h0M429.5 226.7h0M425.9 227.2h0M416.8 233.7h0M418.6 221.4h0M426.3 229.4h0M426.0 223.4h0M432.7 222.2h0M431.0 227.2h0M414.9 215.4h0M419.1 227.4h0M428.3 231.4h0M432.3 231.3h0M415.2 216.4h0M414.8 229.1h0M430.4 216.6h0M431.0 221.2h0M426.4 226.0h0M420.9 223.6h0M419.8 234.7h0M433.1 210.4h0M415.2 229.8h0M417.1 229.9h0M414.5 230.1h0M429.6 228.8h0M415.5 218.6h0M432.3 234.9h0M431.0 234.2h0M414.6 218.3h0M426.4 231.9h0M417.3 229.5h0M420.3 226.0h0M429.9 232.8h0M414.3 230.8h0M432.6 230.7h0M416.9 235.0h0M415.1 235.1h0M421.3 234.9h0M417.1 219.6h0M430.4 235.3h0M416.5 219.0h0M430.2 231.5h0M414.4 213.0h0M428.1 227.9h0M430.5 235.3h0M416.0 218.0h0M432.0 217.8h0M418.8 221.7h0M425.5 227.9h0M416.1 225.9h0M417.1 221.2h0M413.7 229.8h0M419.6 222.4h0M426.8 233.9h0M418.9 224.2h0M420.5 226.6h0M431.4 214.7h0M421.6 224.8h0M418.8 230.1h0M432.6 221.8h0M425.5 231.4h0M431.8 222.3h0M426.8 233.4h0M413.6 226.5h0M417.6 218.8h0M421.5 229.8h0M431.5 232.5h0M427.1 221.8h0M420.3 228.2h0M415.1 225.1h0M431.4 223.4h0M419.3 227.9h0M430.7 230.3h0M417.8 221.7h0M433.2 228.1h0M419.4 223.0h0M427.5 234.1h0M416.9 223.5h0M426.7 224.3h0M429.0 228.7h0M416.4 231.2h0M430.4 223.7h0M418.6 225.8h0M420.5 232.6h0M420.6 232.0h0M431.7 217.3h0M417.1 225.9h0M430.0 231.3h0M414.9 219.6h0M432.1 212.3h0M427.1 235.0h0M428.8 228.5h0M427.8 232.2h0M418.5 227.3h0M431.6 222.4h0M416.3 219.4h0M425.1 229.7h0M419.1 221.6h0M413.7 216.2h0M417.0 225.7h0M415.7 218.1h0M427.6 224.5h0M430.5 216.7h0M414.5 223.1h0M414.1 234.5h0M430.3 231.0h0M419.3 233.4h0M433.1 225.9h0M421.6 231.1h0M414.4 216.5h0M418.8 224.7h0M416.5 224.0h0M417.7 228.8h0M415.5 231.5h0M413.6 223.9h0M413.7 210.4h0M433.2 212.4h0M425.6 225.7h0M420.1 234.3h0M417.6 228.3h0M432.7 211.5h0M425.9 235.2h0M432.7 215.3h0M418.1 227.9h0M420.2 224.0h0M433.3 235.2h0M418.9 235.2h0M415.6 223.4h0M433.3 234.6h0M425.2 227.9h0M432.6 233.3h0M432.6 214.3h0M431.3 232.8h0M417.8 228.5h0M421.4 232.6h0M416.5 219.7h0M421.0 223.3h0M421.5 227.6h0M426.2 227.3h0M430.4 218.7h0M420.4 234.8h0M420.1 233.7h0M427.8 231.7h0M418.0 230.5h0M426.3 234.8h0M431.3 233.6h0M419.9 234.5h0M414.3 215.1h0M431.7 215.5h0M418.5 230.7h0M431.7 215.4h0M417.2 223.0h0M429.0 233.6h0M414.0 232.5h0M429.2 232.5h0M413.7 213.2h0M421.4 223.1h0M428.1 222.2h0M431.4 235.2h0M417.7 220.9h0M426.2 223.1h0M426.2 225.0h0M417.7 231.8h0M420.9 230.7h0M414.5 226.7h0M415.7 228.6h0M428.4 221.3h0M431.1 217.4h0M413.6 228.0h0M415.2 233.7h0M432.7 227.6h0M417.6 225.8h0M421.8 235.4h0M433.4 219.2h0M419.8 234.7h0M417.4 232.3h0M433.0 225.9h0M432.6 224.7h0M421.5 230.1h0M431.8 235.1h0M421.5 234.9h0M413.8 229.0h0M419.4 224.5h0M414.3 222.6h0M429.6 221.7h0M430.2 219.7h0M414.0 229.6h0M427.1 224.2h0M424.8 226.5h0M413.6 225.5h0M433.2 233.5h0M432.9 227.2h0M424.8 234.4h0M430.6 225.2h0M414.6 234.8h0M426.5 230.3h0M426.6 234.1h0M417.7 222.4h0M430.7 229.5h0M417.1 220.2h0M426.4 230.6h0M426.7 224.6h0M430.4 217.9h0M418.0 231.5h0M413.7 211.5h0M420.3 234.8h0M426.8 222.7h0M428.8 232.7h0M429.0 221.6h0M413.7 234.5h0M417.0 232.5h0M432.1 225.6h0M421.4 235.1h0M416.7 230.1h0M418.5 221.7h0M431.5 220.2h0M430.2 230.0h0M414.3 212.8h0M413.6 212.4h0M414.0 230.7h0M429.8 224.5h0M417.3 228.9h0M428.7 226.1h0M418.9 233.9h0M417.8 226.3h0M433.2 230.5h0M416.7 224.1h0M418.9 229.9h0M432.7 216.3h0M429.9 217.3h0M419.2 224.0h0M419.6 228.9h0M420.4 224.2h0M419.7 231.1h0M427.7 223.7h0M421.5 226.7h0M421.3 234.1h0M427.7 232.6h0M432.9 224.0h0M417.9 221.8h0M433.0 227.4h0M430.0 234.5h0M420.6 227.5h0M416.1 215.6h0M420.3 231.0h0M418.0 226.6h0M414.3 229.4h0M427.4 233.9h0M414.6 234.7h0M431.9 225.4h0M433.1 215.6h0M413.7 228.0h0M430.0 235.0h0M418.1 224.3h0M415.4 227.5h0M421.4 224.3h0M421.6 234.4h0M426.5 228.7h0M415.6 217.9h0M416.3 230.8h0M428.4 222.2h0M426.0 228.0h0M429.6 225.4h0M421.1 231.7h0M427.4 226.6h0M428.6 224.1h0M419.8 234.9h0M425.3 230.4h0M432.3 226.4h0M431.9 235.2h0M414.6 229.0h0M414.6 232.8h0M421.8 229.1h0M431.0 221.3h0M432.3 216.3h0M421.1 228.2h0M420.7 226.9h0M432.8 227.4h0M432.3 217.2h0M416.3 234.7h0M421.6 223.6h0M418.4 224.8h0M427.7 222.0h0M431.0 227.0h0M418.8 235.0h0M430.2 228.7h0M415.5 222.3h0M417.6 231.0h0M414.0 224.7h0M425.3 232.5h0M428.5 220.3h0M427.1 232.5h0M427.9 228.5h0M415.9 218.9h0M432.9 219.7h0M433.1 221.1h0M415.4 221.2h0M417.1 229.4h0M420.5 229.7h0M429.5 224.7h0M420.4 234.3h0M416.5 228.2h0M432.7 220.8h0M419.9 223.0h0M414.8 232.2h0M420.0 231.5h0M432.5 220.9h0M421.9 224.5h0M432.0 233.6h0M421.3 227.4h0M422.2 232.9h0M413.7 217.0h0M418.9 225.4h0M421.8 231.3h0M414.3 230.8h0M432.3 213.2h0M427.8 230.3h0M429.9 231.4h0M426.3 228.8h0M420.9 227.6h0M428.2 224.1h0M429.5 230.2h0M427.0 229.7h0M415.1 235.0h0M427.1 232.6h0M417.2 221.1h0M421.1 223.1h0M430.7 221.9h0M416.1 231.4h0M419.1 228.7h0M430.2 231.2h0M416.7 231.2h0M425.0 231.9h0M414.1 230.3h0M427.0 228.4h0M418.1 221.2h0M426.7 225.7h0M415.7 223.4h0M431.2 219.4h0M430.1 235.2h0M429.0 221.0h0M417.0 229.4h0M416.5 235.1h0M430.4 222.7h0M428.0 233.3h0M425.5 226.3h0M426.3 233.9h0M415.2 232.4h0M419.2 223.8h0M426.4 227.9h0M417.7 223.3h0M427.8 233.2h0M425.6 226.7h0M429.1 235.4h0M419.5 234.1h0M425.0 224.4h0M416.0 226.0h0M428.5 221.3h0M416.6 220.4h0M417.3 226.1h0M419.6 224.9h0M414.5 233.5h0M419.4 225.2h0M417.3 224.7h0M428.6 230.0h0M426.9 230.3h0M415.4 225.8h0M417.3 229.7h0M417.8 233.5h0M432.5 220.9h0M419.3 221.6h0M428.6 226.4h0M427.8 234.4h0M428.4 233.6h0M417.1 228.2h0M433.0 221.2h0M428.0 231.0h0M428.2 220.4h0M415.1 220.6h0M418.2 226.4h0M420.0 228.9h0M416.2 225.5h0M426.5 222.5h0M414.3 212.9h0M432.5 220.0h0M415.0 223.9h0M431.5 220.8h0M415.3 229.8h0M420.0 231.3h0M414.6 229.8h0M414.8 233.3h0M431.6 233.0h0M428.8 229.1h0M427.9 224.5h0M430.0 218.7h0M416.4 218.7h0M419.4 221.8h0M418.9 225.4h0M414.7 225.1h0M425.2 233.3h0M415.3 232.9h0M426.3 234.4h0M415.7 220.6h0M430.6 227.9h0M416.7 229.6h0M418.1 228.4h0M414.8 213.7h0M429.1 234.7h0M416.5 228.4h0M427.5 230.9h0M421.5 231.5h0M427.9 223.8h0M429.0 223.7h0M416.3 232.8h0M414.0 213.9h0M416.0 228.6h0M420.8 232.5h0M421.4 223.8h0M414.5 225.7h0M420.2 230.1h0M428.3 226.7h0M428.0 230.2h0M433.1 231.7h0M415.2 223.7h0M425.3 231.0h0M414.8 226.2h0M419.4 234.7h0M432.0 233.3h0M417.2 233.8h0M432.9 218.3h0M430.1 218.7h0M426.4 229.5h0M429.7 231.7h0M432.9 225.3h0M427.6 231.7h0M419.7 233.7h0M416.2 228.7h0M413.7 227.3h0M429.8 232.0h0M416.7 226.9h0M429.3 231.5h0M416.1 231.4h0M420.5 227.3h0M426.8 224.9h0M433.2 215.1h0M428.2 232.1h0M425.8 223.4h0M430.9 233.3h0M421.9 231.5h0M431.6 226.4h0M417.8 224.9h0M418.5 232.9h0M426.6 228.3h0M416.7 220.7h0M430.5 230.2h0M420.7 227.6h0M430.3 226.7h0M416.6 225.9h0M414.2 221.6h0M433.0 213.8h0M420.1 233.7h0M420.4 227.7h0M415.6 215.6h0M415.1 233.4h0M419.5 226.2h0M418.4 232.8h0M418.0 220.0h0M416.9 234.9h0M416.5 225.6h0M420.8 223.9h0M431.8 233.8h0M425.2 235.3h0M433.0 217.9h0M432.5 212.6h0M428.8 225.6h0M427.8 230.5h0M432.1 224.7h0M416.2 222.3h0M428.0 226.1h0M418.4 225.0h0M431.3 230.5h0M416.6 220.8h0M415.2 231.4h0M414.5 214.5h0M416.9 231.1h0M432.4 217.5h0M432.6 232.9h0M414.6 234.9h0M431.3 230.2h0M426.3 230.5h0M417.0 223.8h0M415.6 222.3h0M430.2 222.2h0M426.5 227.8h0M432.8 230.2h0M432.9 214.2h0M425.2 223.7h0M428.4 235.1h0M421.4 225.0h0M432.5 215.1h0M431.0 224.3h0M429.5 220.5h0M417.1 225.8h0M415.1 215.8h0M417.2 218.6h0M421.9 228.9h0M418.8 225.9h0M425.3 234.4h0M425.1 225.0h0M413.9 224.9h0M430.2 229.4h0M416.9 229.1h0M419.2 228.7h0M430.4 219.4h0M415.8 219.1h0M417.9 229.2h0M432.8 217.7h0M425.8 228.5h0M416.5 223.6h0M421.1 223.8h0M420.3 229.3h0M419.4 223.3h0M426.8 229.1h0M427.6 226.6h0M428.7 226.7h0M431.1 233.1h0M414.2 213.0h0M432.2 234.8h0M433.1 226.3h0M430.8 216.4h0M425.6 230.6h0M421.0 232.7h0M421.8 226.9h0M418.4 227.7h0M413.6 233.2h0M432.9 213.2h0M428.3 222.9h0M413.6 219.0h0M431.5 235.4h0M431.6 230.6h0M416.3 233.3h0M416.6 229.4h0M433.0 227.5h0M432.0 226.9h0M418.8 235.1h0M432.2 220.6h0M417.5 228.8h0M413.7 209.4h0M430.5 234.1h0M419.2 232.5h0M420.9 223.9h0M415.8 223.5h0M416.4 227.5h0M421.3 233.5h0M425.4 230.3h0M425.6 232.6h0M418.5 224.7h0M419.8 222.7h0M415.3 224.2h0M429.4 225.6h0M419.6 222.2h0M428.1 231.7h0M431.3 223.3h0M429.2 223.3h0M413.9 211.8h0M413.9 229.5h0M419.4 232.9h0M433.3 218.4h0M420.3 230.7h0M416.1 225.3h0M420.0 223.8h0M432.3 229.5h0M413.8 219.2h0M431.1 215.6h0M419.5 225.0h0M427.5 230.5h0M428.6 229.5h0M430.2 230.5h0M415.9 231.3h0M417.2 235.1h0M433.1 234.3h0M414.2 232.6h0M431.2 233.9h0M432.1 233.5h0M425.7 224.7h0M416.5 232.7h0M425.1 225.4h0M415.2 225.4h0M413.7 233.2h0M416.3 218.9h0M420.7 233.0h0M419.6 231.0h0M429.8 226.5h0M421.0 230.3h0M419.3 234.5h0M417.1 232.7h0M416.1 223.7h0M416.8 231.9h0M432.5 228.9h0M421.3 225.3h0M427.4 226.6h0M433.1 223.8h0M415.4 219.3h0M432.9 228.9h0M427.0 230.5h0M416.4 230.0h0M414.3 219.6h0M426.2 233.2h0M430.4 231.9h0M418.2 224.6h0M425.8 229.4h0M426.7 233.3h0M429.1 234.9h0M413.8 217.1h0M414.5 220.0h0M415.6 216.0h0M425.6 229.8h0M430.6 217.3h0M417.6 232.5h0M424.9 226.7h0M430.4 229.1h0M416.9 227.6h0M419.9 229.4h0M415.6 234.7h0M414.4 218.2h0M432.0 223.5h0M432.1 215.6h0M432.9 227.3h0M417.6 234.8h0M428.5 223.7h0M416.9 222.8h0M416.8 223.4h0M419.4 232.8h0M417.7 224.7h0M414.1 222.1h0M418.7 231.3h0M421.3 226.5h0M427.7 224.5h0M430.5 216.3h0M428.2 230.6h0M426.1 225.8h0M421.5 223.7h0M428.9 231.1h0M427.9 227.6h0M433.0 230.4h0M426.6 233.9h0M432.1 228.2h0M431.9 234.5h0M432.9 216.9h0M418.8 227.0h0M414.4 224.0h0M432.7 220.1h0M430.9 232.7h0M427.3 224.0h0M427.1 223.6h0M432.8 230.8h0M431.9 217.7h0M428.4 231.0h0M431.7 218.9h0M421.1 226.8h0M430.2 227.8h0M417.5 220.1h0M426.2 225.6h0M425.6 231.8h0M429.1 219.2h0M419.7 224.0h0M419.5 223.3h0M431.6 220.3h0M418.6 227.3h0M415.9 215.6h0M415.1 227.4h0M428.5 221.9h0M419.0 233.6h0M414.9 221.1h0M430.4 233.4h0M427.7 225.4h0M419.7 231.9h0M426.5 227.7h0M430.8 232.3h0M419.6 230.1h0M426.7 226.2h0M427.4 222.9h0M433.2 217.4h0M416.5 226.6h0M415.7 223.1h0M433.3 229.8h0M430.0 232.2h0M426.3 225.3h0M418.3 225.7h0M431.2 214.8h0M427.3 227.7h0M432.8 232.1h0M430.1 226.2h0M430.4 234.9h0M426.2 223.4h0M430.3 216.8h0M429.6 226.9h0M429.6 233.8h0M429.5 222.4h0M427.6 231.3h0M429.6 223.4h0M417.9 234.8h0M431.2 216.2h0M431.0 222.0h0M425.1 228.0h0M413.8 213.4h0M418.3 225.1h0M429.6 225.9h0M418.4 224.1h0M430.7 221.3h0M415.7 233.9h0M432.7 229.7h0M421.1 234.3h0M432.2 213.6h0M417.4 225.8h0M433.2 228.3h0M418.4 225.0h0M432.2 216.2h0M420.3 233.7h0M421.5 225.3h0M430.7 230.7h0M418.0 228.0h0M420.7 224.6h0M420.4 224.7h0M430.8 233.2h0M420.2 232.9h0M416.9 230.4h0M431.2 231.8h0M430.4 226.4h0M418.5 230.1h0M429.4 224.6h0M428.7 233.0h0M416.5 228.5h0M415.0 235.3h0M421.8 225.7h0M432.6 218.6h0M416.2 224.1h0M414.2 211.9h0M414.6 218.9h0M432.5 229.7h0M425.3 228.2h0M414.8 231.5h0M415.2 233.0h0M417.7 228.3h0M433.1 219.2h0M414.9 214.4h0M418.6 224.9h0M414.9 219.5h0M414.7 233.1h0M432.7 231.4h0M414.5 220.1h0M417.0 224.8h0M420.9 234.3h0M427.5 221.1h0M420.7 224.4h0M429.5 233.7h0M417.4 234.7h0M431.1 226.8h0M432.9 234.8h0M430.6 220.6h0M419.9 234.0h0M431.5 223.4h0M427.9 221.3h0M426.1 227.3h0M414.4 219.2h0M417.3 229.4h0M433.1 210.3h0M413.6 213.4h0M415.2 231.2h0M433.0 216.1h0M416.7 222.5h0M427.5 232.0h0M416.5 230.0h0M430.9 227.0h0M416.7 217.9h0M432.4 220.1h0M429.3 231.2h0M425.3 226.5h0M420.4 228.6h0M413.8 217.9h0M417.7 226.7h0M417.0 231.2h0M428.0 221.0h0M415.9 217.5h0M418.3 230.6h0M431.6 231.7h0M427.9 233.6h0M426.8 224.5h0M419.2 227.2h0M430.3 226.1h0M425.9 227.5h0M425.8 231.0h0M416.4 218.3h0M414.3 215.0h0M419.7 225.1h0M427.2 224.1h0M417.1 219.5h0M432.8 228.5h0M428.7 226.2h0M417.1 233.0h0M425.5 225.2h0M416.9 230.5h0M418.8 231.7h0M421.5 234.5h0M415.5 215.9h0M420.7 229.7h0M416.9 223.8h0M425.6 234.3h0M428.4 220.5h0M420.6 226.8h0M427.2 234.2h0M431.6 226.6h0M415.6 217.1h0M418.4 225.2h0M414.3 211.3h0M427.4 223.0h0M413.6 209.5h0M414.4 218.3h0M425.6 230.1h0M417.5 234.7h0M413.8 225.2h0M431.0 231.7h0M421.2 234.0h0M430.0 223.8h0M415.8 226.9h0M429.8 229.1h0M420.9 233.4h0M432.3 226.3h0M428.8 234.9h0M426.9 232.4h0M426.9 232.2h0M429.3 232.1h0M416.3 228.2h0M430.5 231.4h0M419.3 231.6h0M425.5 232.0h0M432.8 231.4h0M431.1 216.1h0M429.0 222.9h0M416.4 220.1h0M431.3 223.9h0M413.7 212.3h0M417.1 227.7h0M428.7 229.7h0M413.7 229.9h0M415.8 234.8h0M425.1 231.2h0M427.4 222.3h0M427.6 223.2h0M426.8 233.0h0M430.3 225.3h0M430.5 232.3h0M418.3 231.1h0M430.7 229.9h0M428.7 219.8h0M429.7 222.1h0M417.2 220.6h0M425.8 225.0h0M415.0 235.0h0M415.7 230.4h0M414.6 227.8h0M419.7 233.0h0M414.6 219.5h0M421.6 234.0h0M415.4 217.1h0M432.5 222.8h0M419.9 223.5h0M418.5 231.7h0M428.1 229.9h0M418.7 230.5h0M413.6 212.5h0M416.7 232.1h0M430.9 235.3h0M415.9 215.1h0M415.2 230.0h0M420.1 223.4h0M428.6 226.2h0M417.9 234.9h0M429.9 233.8h0M419.7 232.8h0M432.5 225.1h0M426.6 222.2h0M426.0 225.3h0M415.3 228.1h0M418.7 224.7h0M431.3 226.0h0M416.0 227.1h0M413.7 228.5h0M418.5 227.2h0M425.4 224.7h0M420.2 227.7h0M428.7 228.0h0M427.5 230.9h0M430.4 230.6h0M420.1 224.6h0M419.3 224.0h0M429.9 228.8h0M414.9 233.8h0M430.6 217.3h0M433.3 229.8h0M415.5 222.6h0M420.9 234.1h0M426.1 233.9h0M425.1 233.7h0M429.7 226.6h0M428.6 221.0h0M432.6 214.2h0M420.1 233.2h0M426.2 228.5h0M431.9 234.3h0M417.0 230.7h0M428.6 230.6h0M413.7 211.9h0M433.2 233.6h0M432.0 235.2h0M433.0 230.5h0M414.9 227.9h0M416.6 230.3h0M420.2 228.0h0M420.2 234.5h0M433.0 231.3h0M431.5 215.3h0M418.8 232.1h0M430.4 219.6h0M429.2 220.9h0M430.6 216.8h0M427.8 223.0h0M415.2 215.2h0M414.8 212.6h0M416.4 223.2h0M413.9 218.8h0M432.2 212.6h0M431.1 231.2h0M415.7 225.9h0M416.0 219.5h0M429.1 227.9h0M420.8 222.7h0M418.7 223.1h0M415.1 233.1h0M421.5 228.0h0M431.4 231.2h0M419.7 232.4h0M414.8 231.4h0M429.4 229.8h0M430.4 233.5h0M432.4 220.8h0M414.6 222.3h0M429.2 220.0h0M431.4 234.1h0M428.2 231.0h0M417.1 234.7h0M414.8 225.3h0M430.4 233.0h0M433.3 222.8h0M417.4 223.6h0M427.4 233.0h0M420.3 229.1h0M432.0 219.5h0M421.8 223.5h0M427.6 229.5h0M413.7 222.5h0M429.7 224.4h0M426.2 231.1h0M413.9 224.3h0M418.5 230.4h0M429.2 223.7h0M426.1 228.1h0M420.1 233.8h0M417.9 230.3h0M418.3 226.3h0M426.6 227.8h0M432.3 234.1h0M430.2 218.1h0M418.3 227.0h0M428.5 226.7h0M428.4 230.9h0M418.0 234.6h0M429.6 223.6h0M420.0 233.5h0M419.6 229.6h0M427.3 223.5h0M432.1 234.5h0M417.0 219.6h0M432.4 224.0h0M416.7 228.1h0M419.0 223.8h0M419.8 234.0h0M418.6 232.1h0M428.3 232.1h0M432.4 214.4h0M415.6 222.0h0M420.7 226.1h0M420.1 231.8h0M431.2 231.7h0M419.5 225.2h0M418.6 233.3h0M416.8 235.1h0M430.3 228.1h0M421.5 224.3h0M426.8 225.8h0M427.5 225.6h0M430.7 230.7h0M416.8 217.2h0M429.9 226.3h0M429.4 226.1h0M420.7 231.7h0M430.1 220.5h0M415.2 227.6h0M431.1 218.2h0M413.8 209.5h0M419.6 225.8h0M413.7 224.3h0M418.5 221.8h0M417.7 230.2h0M413.8 228.3h0M417.9 233.9h0M417.6 225.0h0M428.7 225.2h0M415.7 228.0h0M425.8 225.8h0M416.0 215.0h0M427.4 227.2h0M431.8 225.5h0M415.7 230.7h0M427.5 223.3h0M427.5 221.2h0M430.0 234.2h0M418.4 219.6h0M417.6 234.7h0M413.6 217.0h0M424.8 225.5h0M428.2 228.6h0M418.1 230.8h0M432.9 231.3h0M420.8 231.9h0M429.4 222.0h0M416.7 234.4h0M432.2 230.1h0M419.5 233.5h0M427.7 230.5h0M428.3 222.4h0M417.2 233.9h0M431.9 227.6h0M414.0 215.2h0M414.3 220.6h0M421.1 225.9h0M416.8 228.5h0M431.6 227.6h0M420.3 235.3h0M432.8 234.0h0M426.3 231.9h0M428.8 230.6h0M418.8 232.7h0M427.2 228.8h0M427.8 235.4h0M426.0 228.8h0M418.5 227.9h0M430.9 234.5h0M426.1 225.4h0M428.7 219.8h0M421.3 231.4h0M418.8 221.3h0M431.2 231.1h0M421.4 232.9h0M420.2 234.1h0M432.4 216.7h0M415.4 228.3h0M413.8 233.1h0M432.8 227.3h0M428.6 233.2h0M432.2 221.0h0M421.6 232.1h0M420.6 225.4h0M420.0 226.4h0M416.0 217.3h0M429.1 219.0h0M418.2 229.8h0M426.2 223.6h0M425.4 228.2h0M416.0 222.3h0M424.9 233.5h0M429.9 234.9h0M420.0 230.7h0M430.2 231.9h0M417.2 230.1h0M414.9 228.3h0M415.6 230.4h0M418.4 231.8h0M428.9 219.8h0M430.9 220.1h0M431.1 223.8h0M430.7 230.5h0M432.3 218.4h0M414.0 221.8h0M427.6 225.9h0M417.0 219.9h0M414.7 215.6h0M416.2 220.4h0M431.3 234.0h0M431.0 232.9h0M433.0 225.1h0M416.3 217.3h0M432.1 213.0h0M425.8 223.3h0M415.4 229.1h0M431.3 221.2h0M431.7 227.5h0M433.0 222.3h0M426.1 230.7h0M421.5 232.8h0M414.8 232.3h0M432.5 232.3h0M418.6 232.3h0M415.9 228.8h0M426.2 233.0h0M421.0 228.5h0M413.6 231.0h0M414.8 212.8h0M419.9 223.9h0M420.3 232.8h0M421.0 233.3h0M413.6 218.8h0M414.6 231.2h0M430.5 233.8h0M431.3 219.0h0M430.4 234.4h0M429.8 228.8h0M416.2 215.9h0M426.1 233.2h0M413.9 230.2h0M414.3 235.0h0M419.3 228.5h0M419.5 233.1h0M430.6 232.2h0M415.0 214.6h0M431.9 225.4h0M421.1 232.0h0M421.3 227.8h0M430.7 228.6h0M418.5 234.7h0M431.2 230.4h0M432.5 214.7h0M433.3 226.0h0M416.4 217.4h0M428.0 234.8h0M431.9 224.0h0M430.0 219.1h0M416.3 226.6h0M416.3 232.4h0M416.6 221.4h0M425.0 225.9h0M418.0 230.2h0M417.3 230.9h0M428.9 219.3h0M422.0 227.5h0M413.9 215.5h0M424.9 235.1h0M425.0 229.6h0M421.8 232.8h0M427.4 232.1h0M416.7 228.5h0M432.9 233.5h0M430.9 234.9h0M420.0 235.0h0M415.4 225.6h0M419.8 230.3h0M431.6 234.4h0M429.2 223.5h0M418.6 230.2h0M417.8 228.2h0M426.9 233.2h0M427.9 235.3h0M420.2 233.7h0M416.3 228.6h0M422.1 231.9h0M428.5 222.7h0M425.1 226.8h0M432.2 234.2h0M414.9 234.9h0M419.3 227.6h0M416.1 221.5h0M417.0 231.5h0M428.3 226.4h0M419.7 234.8h0M427.6 223.2h0M429.6 219.9h0M428.8 223.7h0M414.9 224.4h0M416.4 230.7h0M430.5 229.2h0M431.6 231.5h0M425.9 224.2h0M428.9 235.3h0M433.2 224.9h0M414.9 227.5h0M427.1 223.1h0M418.9 225.5h0M430.9 222.1h0M432.3 228.4h0M427.3 227.3h0M418.0 232.4h0M430.2 216.6h0M415.6 217.4h0M426.3 229.5h0M426.8 223.4h0M414.4 232.3h0M417.8 219.4h0M419.8 222.7h0M416.9 220.1h0M432.1 225.7h0M431.4 227.8h0M428.3 233.4h0M429.5 223.2h0M432.9 233.3h0M418.4 233.0h0M418.8 221.9h0M418.0 224.4h0M421.3 233.2h0M420.1 231.4h0M433.0 212.4h0M430.0 231.6h0M417.4 218.6h0M429.8 234.9h0M421.7 223.9h0M428.0 230.7h0M418.5 224.4h0M414.5 233.9h0M418.1 230.8h0M429.3 218.8h0M414.9 229.6h0M425.3 232.4h0M429.9 231.3h0M427.2 232.0h0M416.3 226.0h0M415.1 221.8h0M419.7 228.5h0M417.2 233.6h0M418.9 224.3h0M425.4 224.6h0M414.5 221.6h0M432.3 234.8h0M421.3 226.7h0M421.6 224.5h0M432.2 225.3h0M415.1 229.9h0M429.8 234.1h0M418.6 227.2h0M420.4 232.4h0M420.3 230.8h0M418.6 233.6h0M416.5 216.2h0M418.1 223.6h0M415.2 213.3h0M416.3 225.9h0M420.0 234.8h0M416.2 217.3h0M420.1 231.2h0M415.7 231.0h0M429.0 219.3h0M420.0 222.6h0M421.3 224.5h0M421.5 230.1h0M433.0 223.1h0M419.4 222.2h0M429.9 223.2h0M414.8 233.5h0M420.8 229.3h0M415.6 225.7h0M432.0 234.8h0M419.3 225.4h0M421.2 228.6h0M425.1 227.8h0M415.0 220.8h0M431.5 223.5h0M419.6 223.0h0M418.6 233.5h0M429.4 232.4h0M430.0 232.1h0M432.0 231.3h0M420.1 230.9h0M421.8 224.5h0M432.6 210.9h0M430.0 232.1h0M427.5 235.1h0M419.4 224.8h0M428.3 231.3h0M421.0 234.2h0M428.2 226.8h0M430.1 234.7h0M432.2 226.7h0M432.7 231.4h0M430.0 225.7h0M432.5 232.7h0M433.0 224.7h0M425.7 227.5h0M417.6 233.6h0M427.4 232.3h0M421.8 228.8h0M413.9 229.5h0M421.7 226.3h0M419.6 223.3h0M417.2 226.9h0M416.2 232.7h0M427.7 235.4h0M417.8 231.7h0M416.5 228.2h0M414.0 231.3h0M418.1 223.2h0M418.5 223.7h0M425.4 228.9h0M421.0 228.9h0M431.5 229.4h0M418.5 235.4h0M433.0 230.7h0M429.1 233.2h0M419.5 230.9h0M421.6 227.1h0M425.3 224.5h0M430.2 220.6h0M429.3 229.2h0M416.7 233.6h0M426.4 230.9h0M429.2 230.3h0M420.6 226.7h0M431.1 221.2h0M424.9 231.4h0M426.5 228.9h0M415.2 234.0h0M427.3 227.0h0M414.1 222.9h0M428.1 225.6h0M422.1 228.4h0M433.0 231.0h0M426.8 234.3h0M417.5 220.5h0M419.5 228.1h0M419.0 235.0h0M421.9 224.8h0M414.3 210.9h0M431.2 222.7h0M426.3 229.5h0M414.6 234.0h0M421.7 227.2h0M427.6 233.0h0M419.5 224.9h0M417.3 231.8h0M419.0 230.8h0M427.6 231.0h0M430.8 225.9h0M430.1 228.7h0M416.8 229.7h0M431.2 219.2h0M422.1 228.9h0M430.8 234.1h0M431.9 230.1h0M421.0 235.3h0M427.9 223.0h0M414.6 213.4h0M428.7 220.5h0M430.6 219.9h0M428.7 229.3h0M431.3 226.1h0M419.0 232.9h0M420.4 223.2h0M416.1 220.6h0M430.5 228.3h0M420.8 233.5h0M418.5 232.3h0M426.7 228.6h0M432.5 225.4h0M421.7 230.5h0M413.8 219.3h0M428.9 228.5h0M413.7 232.3h0M417.7 219.0h0M431.7 215.2h0M431.5 215.1h0M426.8 234.3h0M432.3 215.6h0M428.9 234.3h0M432.0 228.7h0M419.1 224.5h0M416.2 232.3h0M432.9 211.2h0M415.6 220.2h0M415.4 231.2h0M432.0 225.5h0M432.6 228.4h0M416.0 226.0h0M429.1 219.7h0M416.9 230.5h0M432.6 234.4h0M429.7 223.1h0M415.8 219.8h0M421.0 228.0h0M432.0 235.2h0M430.5 224.8h0M432.6 224.2h0M427.7 233.8h0M414.2 219.3h0M417.3 229.0h0M433.3 233.5h0M414.5 235.4h0M414.5 232.0h0M420.3 234.7h0M431.6 225.3h0M428.6 233.9h0M426.5 224.7h0M417.7 222.3h0M430.3 228.0h0M416.7 221.8h0M417.5 219.7h0M432.3 217.9h0M432.0 233.5h0M431.2 220.2h0M419.8 227.3h0M427.3 224.3h0M420.1 226.9h0M433.1 231.1h0M426.2 227.9h0M428.8 219.7h0M421.2 233.4h0M415.7 222.1h0M431.9 215.0h0M420.1 231.9h0M431.2 225.3h0M421.6 225.9h0M432.7 224.6h0M416.4 222.3h0M417.0 220.5h0M420.0 223.7h0M417.1 230.2h0M416.4 222.8h0M414.1 218.7h0M429.1 225.6h0M415.7 220.5h0M414.3 219.9h0M428.3 222.2h0M432.0 231.9h0M416.1 221.8h0M416.7 227.8h0M427.8 225.7h0M432.2 225.9h0M418.4 223.0h0M414.8 216.6h0M414.3 222.8h0M425.3 234.8h0M432.4 230.5h0M428.6 226.7h0M414.1 227.2h0M428.5 220.7h0M432.7 222.4h0M417.4 229.1h0M432.0 219.4h0M430.3 219.6h0M415.2 214.8h0M419.0 224.3h0M433.2 213.8h0M414.4 234.3h0M427.1 230.1h0M428.8 232.5h0M428.5 221.6h0M432.9 234.7h0M430.6 223.7h0M419.8 229.9h0M428.3 230.5h0M431.4 227.7h0M431.1 221.9h0M432.3 233.3h0M421.1 231.4h0M419.7 230.6h0M426.7 226.8h0M428.8 221.2h0M431.1 224.3h0M432.3 233.4h0M425.7 232.3h0M414.6 233.9h0M417.2 223.1h0M427.4 229.2h0M415.6 221.7h0M417.2 226.4h0M420.8 233.1h0M433.1 210.9h0M416.9 231.2h0M427.6 229.9h0M431.5 229.9h0M421.0 231.6h0M414.9 213.3h0M416.9 230.4h0M420.3 233.8h0M427.6 234.7h0M417.7 218.6h0M429.3 219.9h0M421.7 223.4h0M429.5 220.1h0M415.1 222.2h0M418.5 225.3h0M429.5 218.9h0M427.5 229.6h0M428.2 222.4h0M414.4 231.8h0M429.7 221.6h0M416.0 224.7h0M432.6 224.0h0M418.9 222.4h0M427.0 230.4h0M431.1 220.2h0M421.5 231.8h0M418.6 222.1h0M417.4 223.6h0M430.7 216.7h0M426.1 235.3h0M428.7 221.1h0M427.8 224.1h0M417.5 227.5h0M432.1 219.8h0M433.1 234.7h0M419.1 223.0h0M430.8 217.5h0M421.4 223.1h0M432.5 216.9h0M416.2 231.5h0M420.4 231.1h0M430.7 224.0h0M416.6 227.3h0M432.3 225.6h0M430.6 231.5h0M416.3 228.2h0M414.1 220.7h0M418.1 220.5h0M418.3 219.6h0M427.2 224.0h0M414.0 228.9h0M431.4 233.0h0M431.0 232.6h0M427.4 226.7h0M417.3 230.2h0M415.4 217.8h0M432.2 220.5h0M432.0 232.5h0M425.6 224.1h0M414.4 212.3h0M432.8 223.4h0M430.3 216.8h0M413.8 227.1h0M419.9 232.9h0M426.7 223.5h0M417.7 234.4h0M418.8 222.0h0M429.3 233.7h0M425.6 233.8h0M426.3 224.4h0M416.2 233.2h0M417.7 233.5h0M415.7 235.1h0M426.2 233.4h0M414.8 221.9h0M415.4 229.6h0M430.4 226.0h0M417.9 225.3h0M430.9 229.8h0M427.7 229.3h0M430.8 224.7h0M431.9 227.9h0M427.3 229.6h0M413.6 232.4h0M419.0 233.5h0M418.5 231.0h0M431.4 226.9h0M417.1 229.5h0M416.7 226.7h0M415.5 230.3h0M415.4 222.8h0M419.8 232.3h0M418.9 226.9h0M416.2 225.7h0M413.6 233.2h0M419.9 228.6h0M414.5 224.9h0M419.3 222.3h0M428.7 226.8h0M413.6 230.6h0M418.0 225.8h0M431.4 222.0h0M427.1 229.3h0M419.3 223.4h0M420.7 235.4h0M417.1 232.5h0M427.3 224.8h0M431.1 228.3h0M429.2 230.0h0M430.7 229.1h0M421.7 232.3h0M413.8 212.4h0M428.4 229.8h0M416.9 233.8h0M425.5 229.4h0M427.9 226.0h0M420.3 224.2h0M426.3 223.9h0M417.0 232.2h0M415.5 231.5h0M430.2 222.6h0M413.6 225.1h0M432.3 226.6h0M432.2 212.4h0M427.8 226.9h0M415.4 231.2h0M419.0 229.1h0M413.6 220.9h0M420.7 230.8h0M430.1 226.8h0M415.9 215.8h0M416.5 231.2h0M430.3 231.1h0M431.8 214.9h0M429.6 221.3h0M431.6 224.2h0M429.9 235.3h0M431.8 226.4h0M431.9 219.8h0M414.7 226.9h0M427.3 223.8h0M421.0 234.4h0M414.4 221.6h0M418.4 220.4h0M428.5 223.6h0M421.8 235.2h0M419.4 233.3h0M428.3 233.4h0M414.9 216.0h0M419.2 222.6h0M413.9 234.0h0M426.1 226.5h0M421.0 232.8h0M415.6 233.3h0M429.6 233.5h0M428.5 232.6h0M414.3 222.8h0M420.5 226.6h0M427.1 232.9h0M426.8 233.1h0M413.8 229.9h0M415.8 223.2h0M432.3 215.1h0M414.2 220.3h0M415.5 233.1h0M420.7 229.8h0M427.7 224.9h0M417.7 222.3h0M421.4 232.9h0M433.0 225.7h0M429.1 229.9h0M421.0 224.6h0M429.2 230.9h0M431.4 223.7h0M415.5 219.9h0M432.1 220.2h0M428.0 233.7h0M426.1 231.7h0M428.5 231.5h0M433.3 229.0h0M430.2 223.4h0M428.8 222.4h0M415.1 221.7h0M418.1 233.2h0M417.4 223.3h0M428.2 225.0h0M425.6 227.4h0M431.8 234.4h0M416.9 219.3h0M427.2 234.6h0M418.3 234.8h0M427.6 234.0h0M419.1 227.2h0M420.1 233.7h0M417.6 226.5h0M415.8 226.3h0M432.3 229.5h0M416.5 220.0h0M420.2 222.1h0M430.4 235.4h0M429.2 227.5h0M418.9 233.2h0M419.9 222.6h0M430.6 224.6h0M427.1 235.1h0M431.1 215.6h0M428.1 227.1h0M417.9 233.1h0M426.0 232.2h0M432.4 215.5h0M416.8 226.3h0M431.3 231.0h0M426.1 234.1h0M428.4 220.0h0M433.1 234.1h0M421.5 233.9h0M431.8 232.5h0M425.9 230.3h0M418.6 220.9h0M415.0 215.1h0M430.0 223.1h0M427.0 231.0h0M418.4 232.6h0M428.4 229.0h0M429.7 224.9h0M417.4 229.0h0M417.6 220.5h0M414.3 211.3h0M413.6 217.5h0M432.8 219.6h0M422.0 232.4h0M428.0 230.4h0M417.3 225.7h0M427.0 234.7h0M425.7 226.6h0M420.5 229.3h0M413.8 234.5h0M421.0 234.3h0M430.4 234.3h0M413.9 211.7h0M431.8 219.3h0M425.3 234.9h0M432.8 219.7h0M430.7 222.6h0M417.7 229.5h0M427.9 230.6h0M418.2 230.4h0M429.0 229.9h0M418.7 230.0h0M425.6 223.3h0M431.7 221.7h0M417.0 223.4h0M431.7 229.7h0M417.3 225.4h0M425.2 228.5h0M432.3 219.4h0M430.4 219.9h0M430.5 219.3h0M416.2 226.6h0M414.9 232.6h0M422.0 231.4h0M428.8 220.3h0M433.3 209.8h0M431.4 215.4h0M421.3 234.1h0M433.0 210.6h0M417.2 228.0h0M427.0 231.1h0M416.0 222.1h0M430.3 229.4h0M430.6 217.1h0M413.8 212.6h0M426.9 228.9h0M426.6 234.4h0M432.2 214.1h0M419.0 224.8h0M416.6 228.4h0M428.6 228.0h0M417.0 221.0h0M420.0 232.7h0M415.9 227.8h0M415.0 232.6h0M417.6 224.3h0M416.2 217.0h0M413.7 221.3h0M431.3 218.1h0M421.5 234.0h0M416.7 228.2h0M421.3 228.5h0M433.2 227.1h0M418.9 227.2h0M429.4 222.1h0M415.2 234.9h0M429.2 223.3h0M420.2 229.1h0M428.0 234.7h0M417.9 230.0h0M430.3 228.1h0M414.3 226.1h0M427.8 231.9h0M415.1 230.0h0M430.9 235.3h0M428.5 225.1h0M420.9 222.6h0M431.7 232.7h0M427.7 230.3h0M430.8 220.6h0M432.4 233.4h0M415.5 231.2h0M413.6 228.9h0M420.8 233.9h0M432.7 214.4h0M414.2 211.2h0M415.3 228.7h0M415.0 217.6h0M415.5 232.8h0M413.9 232.7h0M418.8 220.6h0M414.6 227.3h0M419.3 232.7h0M425.9 232.9h0M427.0 223.9h0M419.6 227.8h0M426.1 232.3h0M417.3 226.9h0M429.6 220.5h0M416.4 225.4h0M419.7 231.7h0M432.4 217.1h0M415.8 216.4h0M417.3 228.2h0M431.1 232.2h0M432.6 219.6h0M426.5 233.3h0M416.8 234.2h0M427.7 223.4h0M419.6 227.7h0M418.6 220.4h0M414.9 226.2h0M430.0 229.3h0M425.4 229.1h0M420.9 231.7h0M418.5 235.0h0M414.0 214.1h0M414.8 232.5h0M425.8 232.9h0M427.6 228.0h0M430.8 219.9h0M413.7 227.1h0M422.0 227.1h0M430.9 228.6h0M433.2 223.5h0M418.2 227.3h0M418.9 228.6h0M426.5 232.1h0M429.6 220.2h0M420.3 222.4h0M432.3 225.8h0M432.2 229.3h0M418.2 223.9h0M418.5 227.1h0M419.3 223.2h0M416.5 235.1h0M417.5 224.0h0M415.8 216.9h0M414.6 227.3h0M425.9 225.2h0M414.4 212.2h0M417.4 220.3h0M427.9 220.7h0M430.8 232.2h0M420.0 228.0h0M431.7 232.7h0M430.1 233.9h0M420.8 227.2h0M429.1 221.4h0M414.3 219.6h0M430.5 224.7h0M425.4 227.4h0M426.2 230.2h0M425.4 233.0h0M428.9 226.6h0M429.0 232.1h0M430.9 225.2h0M419.1 233.4h0M419.1 229.1h0M414.3 213.4h0M429.3 229.9h0M416.8 228.1h0M428.3 229.1h0M413.6 214.0h0M414.6 212.4h0M431.9 231.3h0M416.7 233.9h0M426.9 228.6h0M432.7 188.3h0M429.2 195.1h0M415.2 212.3h0M431.5 197.9h0M415.4 217.3h0M430.6 195.4h0M414.2 215.4h0M431.4 214.1h0M414.5 207.0h0M432.1 216.5h0M415.3 204.4h0M413.7 216.4h0M419.1 208.4h0M413.9 203.5h0M429.5 217.1h0M431.3 207.1h0M416.8 214.1h0M415.5 213.0h0M415.5 213.6h0M415.1 218.0h0M431.8 214.9h0M432.8 212.1h0M417.0 207.3h0M414.2 215.1h0M416.8 214.3h0M432.5 214.7h0M431.8 212.4h0M413.6 206.0h0M431.6 215.2h0M414.1 209.0h0M414.4 196.0h0M432.5 203.2h0M416.3 215.7h0M431.9 214.7h0M419.2 212.3h0M416.2 216.5h0M413.7 196.9h0M415.0 217.1h0M429.4 195.6h0M415.4 198.9h0M415.1 202.5h0M416.6 215.4h0M418.0 206.8h0M415.3 211.5h0M417.9 194.5h0M432.3 202.8h0M431.1 214.0h0M430.9 212.5h0M432.7 204.6h0M415.1 213.1h0M417.2 216.6h0M432.7 211.3h0M416.6 185.4h0M432.0 213.7h0M433.2 208.6h0M433.1 211.2h0M415.5 214.9h0M429.4 215.2h0M433.3 212.9h0M414.4 215.1h0M415.1 214.9h0M433.1 203.7h0M416.9 193.1h0M419.6 211.3h0M432.2 215.4h0M413.9 211.5h0M414.9 211.0h0M430.9 216.3h0M433.0 210.5h0M417.5 195.0h0M432.4 215.4h0M416.1 214.3h0M414.4 216.1h0M415.1 211.6h0M431.0 195.4h0M418.5 212.8h0M430.2 211.2h0M417.8 215.1h0M432.3 215.7h0M420.0 183.6h0M432.7 217.6h0M432.5 195.1h0M415.0 217.9h0M419.3 216.5h0M432.8 214.8h0M432.2 195.6h0M413.8 209.4h0M417.6 213.9h0M416.2 214.4h0M431.1 215.1h0M428.5 194.2h0M432.2 212.2h0M431.2 217.6h0M430.8 217.3h0M419.1 216.3h0M432.8 216.7h0M431.7 217.7h0M430.9 210.2h0M414.9 208.9h0M431.6 210.7h0M432.0 215.7h0M430.2 200.0h0M420.3 216.3h0M429.6 207.4h0M432.0 215.1h0M431.6 215.5h0M414.5 195.6h0M416.9 211.8h0M430.3 212.6h0M429.3 214.2h0M433.3 216.3h0M432.8 209.9h0M432.0 194.5h0M432.6 214.7h0M431.0 208.3h0M433.3 217.1h0M416.8 213.8h0M414.2 216.2h0M432.1 208.1h0M433.0 214.8h0M428.9 207.2h0M430.5 213.2h0M414.7 215.0h0M414.9 193.3h0M417.1 217.4h0M416.5 217.9h0M416.5 193.3h0M431.9 216.8h0M413.6 201.0h0M414.4 214.2h0M432.7 213.6h0M431.2 213.6h0M415.1 217.7h0M414.0 211.2h0M432.3 216.0h0M430.9 216.0h0M415.8 212.2h0M416.8 187.8h0M414.9 215.7h0M433.2 217.4h0M415.4 213.6h0M418.1 207.3h0M419.7 199.5h0M431.6 217.5h0M413.8 209.6h0M415.5 207.6h0M431.4 199.2h0M432.9 216.7h0M433.2 200.0h0M418.2 216.8h0M430.0 216.6h0M416.0 215.7h0M415.0 216.1h0M414.8 215.3h0M418.0 217.2h0M414.7 195.8h0M431.1 196.3h0M432.9 193.7h0M431.1 213.8h0M432.4 205.7h0M432.6 210.5h0M431.4 213.3h0M416.5 217.9h0M428.9 214.9h0M432.8 205.3h0M417.0 211.3h0M429.3 215.0h0M418.2 215.9h0M415.9 211.4h0M414.5 214.0h0M413.8 213.4h0M416.8 216.5h0M429.6 205.2h0M429.4 216.3h0M413.8 213.8h0M414.3 216.2h0M415.5 205.5h0M428.5 175.9h0M420.4 182.7h0M413.7 205.5h0M416.5 201.4h0M431.8 194.1h0M430.6 217.9h0M432.8 212.9h0M430.9 198.3h0M433.3 216.3h0M431.7 217.8h0M432.0 173.8h0M433.0 212.6h0M429.1 196.7h0M416.1 203.5h0M420.0 213.4h0M415.7 207.6h0M431.9 193.1h0M414.5 216.4h0M428.1 196.8h0M433.0 214.8h0M415.2 184.3h0M417.2 212.5h0M414.3 211.0h0M432.5 205.6h0M413.8 198.8h0M416.5 216.4h0M414.9 217.2h0M432.7 210.4h0M416.3 217.8h0M431.7 202.0h0M431.5 214.8h0M414.1 208.1h0M414.1 190.4h0M433.0 214.1h0M414.8 199.7h0M432.4 216.6h0M430.1 211.5h0M428.8 211.1h0M420.1 209.8h0M429.5 217.2h0M417.4 216.5h0M434.8 184.8h0M415.2 163.2h0M413.9 177.3h0M415.6 174.6h0M433.8 163.8h0M432.9 144.3h0M433.7 160.8h0M433.4 161.0h0M414.8 175.9h0M434.3 186.0h0M415.2 178.4h0M413.8 178.2h0M415.1 139.8h0M415.3 135.9h0M427.6 234.6h0M421.9 234.9h0M407.3 234.4h0M446.1 235.3h0M425.7 234.9h0M422.5 235.2h0M440.5 235.3h0M431.3 235.3h0M411.3 234.7h0M428.0 235.3h0M409.4 234.5h0M402.7 234.8h0M427.4 234.6h0M452.5 234.9h0M417.9 234.6h0M428.8 234.6h0M426.9 235.1h0M425.1 235.1h0M426.3 234.6h0M416.9 234.6h0M411.9 235.2h0M437.4 234.6h0M438.6 235.3h0M409.5 234.6h0M405.5 234.6h0M402.0 234.5h0M436.0 235.1h0M426.8 234.9h0M419.1 234.8h0M431.8 234.5h0M402.5 235.0h0M409.1 235.3h0M406.0 234.6h0M416.3 235.0h0M397.7 235.2h0M423.2 235.3h0M429.5 234.6h0M438.2 234.5h0M428.1 235.2h0M435.1 234.8h0M428.4 234.7h0M420.1 234.6h0M433.8 234.6h0M440.1 235.3h0M420.1 234.6h0M421.0 235.1h0M425.9 235.4h0M428.2 234.5h0M423.6 234.9h0M419.5 235.1h0M414.6 235.0h0M439.8 234.9h0M445.0 235.0h0M410.1 234.6h0M423.4 234.6h0M451.3 235.0h0M441.0 235.3h0M416.2 234.7h0M445.8 234.7h0M426.9 234.7h0M412.0 234.5h0M430.0 234.6h0M423.4 234.7h0M423.7 234.4h0M411.8 235.3h0M431.2 235.2h0M433.0 234.8h0M409.3 234.5h0M445.4 234.7h0M407.4 235.1h0M435.9 234.7h0M407.8 234.7h0M429.4 234.7h0M425.2 235.3h0M421.6 235.3h0M415.9 234.4h0M434.2 235.0h0M426.1 234.7h0M430.1 235.2h0M427.9 234.8h0M451.8 235.4h0M414.2 235.3h0M421.6 235.0h0M422.0 235.1h0M432.7 234.9h0M451.6 234.6h0M419.6 234.5h0M462.2 235.4h0M412.3 234.8h0M407.7 234.5h0M436.1 234.9h0M445.6 234.4h0M418.7 234.8h0M431.6 234.5h0M430.0 234.7h0M438.5 234.5h0M420.5 234.7h0M435.1 235.2h0M429.9 235.0h0M425.3 234.6h0M431.1 235.3h0M413.8 234.6h0M460.4 234.6h0M445.6 235.1h0M428.2 234.5h0M429.9 235.1h0M406.7 235.2h0M410.6 235.1h0M422.1 234.5h0M437.6 235.2h0M428.0 234.8h0M417.8 235.1h0M424.6 234.6h0M432.4 234.4h0M428.5 234.9h0M431.8 235.3h0M408.7 235.4h0M406.0 235.0h0M432.6 235.4h0M417.8 235.0h0M404.4 234.9h0M418.5 235.3h0M412.7 234.9h0M411.1 235.0h0M433.8 235.3h0M433.2 234.5h0M424.4 234.7h0M414.0 235.1h0M416.7 234.6h0M414.9 234.8h0M415.7 235.0h0M451.2 234.4h0M419.9 234.8h0M425.2 235.3h0M432.8 234.9h0M418.4 235.2h0M417.1 235.3h0M423.2 235.2h0M425.7 235.2h0M404.4 234.8h0M417.6 235.2h0M430.0 234.8h0M434.0 234.5h0M427.5 234.9h0M433.8 234.7h0M420.1 234.6h0M409.5 234.8h0M425.9 234.6h0M415.1 234.9h0M423.4 234.9h0M412.9 234.5h0M426.2 234.8h0M429.5 234.6h0M426.1 234.4h0M432.6 234.4h0M415.7 235.2h0M427.0 235.2h0M419.1 234.4h0M415.6 235.2h0M425.9 234.6h0" stroke="#a9a9a9" stroke-width="1.7" stroke-linecap="round" fill="none"/>
<path d="M412.7 194.7h0M397.4 234.3h0M383.4 234.0h0M402.2 227.5h0M405.2 210.9h0M413.5 233.2h0M378.0 204.6h0M410.9 231.8h0M404.2 232.6h0M406.4 227.6h0M407.7 229.9h0M411.7 209.2h0M409.4 225.3h0M411.8 228.1h0M408.8 232.6h0M411.6 206.6h0M411.0 226.7h0M398.6 221.5h0M404.3 232.7h0M410.1 207.2h0M410.7 220.0h0M383.0 234.3h0M398.9 227.5h0M409.0 228.8h0M400.6 223.7h0M413.4 222.9h0M413.1 219.8h0M412.1 221.9h0M360.9 234.1h0M412.1 181.6h0M390.8 234.3h0M393.0 212.9h0M380.3 234.1h0M411.5 217.8h0M412.2 231.8h0M411.2 233.2h0M408.8 229.8h0M399.8 222.0h0M395.3 234.2h0M411.2 225.9h0M406.8 208.8h0M408.2 232.3h0M379.1 224.2h0M395.6 224.0h0M395.1 211.8h0M404.4 231.3h0M412.4 233.2h0M411.3 234.0h0M403.3 230.3h0M407.6 231.0h0M411.2 234.1h0M407.4 231.6h0M407.3 232.1h0M399.8 229.2h0M408.6 230.7h0M397.9 232.8h0M364.1 233.0h0M409.0 209.7h0M412.4 226.8h0M408.0 233.4h0M387.1 234.3h0M409.5 220.8h0M397.2 230.1h0M413.5 230.3h0M408.1 228.4h0M412.9 230.3h0M407.0 213.6h0M409.8 233.8h0M411.0 205.1h0M410.7 195.7h0M408.2 220.9h0M378.8 234.0h0M401.8 230.2h0M412.2 232.9h0M398.0 170.5h0M402.5 172.9h0M397.7 207.6h0M402.8 232.2h0M397.4 234.2h0M409.5 208.3h0M390.4 189.6h0M412.9 216.1h0M387.8 222.2h0M412.2 227.3h0M373.3 218.2h0M405.3 234.0h0M399.5 208.8h0M405.5 140.6h0M407.1 226.3h0M413.4 233.3h0M411.1 216.8h0M402.2 222.3h0M411.5 233.1h0M402.4 187.1h0M396.8 220.0h0M394.1 228.6h0M367.3 234.1h0M408.8 230.4h0M400.9 229.8h0M404.8 232.7h0M408.0 232.7h0M413.1 234.1h0M408.8 216.7h0M408.4 225.7h0M409.4 215.4h0M409.9 227.5h0M405.8 217.4h0M362.1 234.2h0M410.5 221.9h0M413.0 231.7h0M410.5 213.3h0M409.9 210.2h0M401.8 224.2h0M412.8 230.6h0M362.7 234.3h0M411.5 227.3h0M412.7 231.1h0M400.5 225.8h0M402.6 218.5h0M405.6 233.6h0M409.4 234.3h0M410.4 230.6h0M393.9 223.0h0M407.9 232.1h0M393.8 234.1h0M400.7 230.2h0M410.3 221.4h0M403.5 227.1h0M410.6 231.0h0M411.1 228.6h0M411.2 225.6h0M409.5 221.8h0M410.5 220.8h0M366.8 234.0h0M400.6 228.5h0M384.9 216.7h0M408.1 216.8h0M404.1 229.8h0M384.8 233.6h0M410.1 225.8h0M407.5 232.9h0M381.2 233.1h0M413.0 191.1h0M396.1 226.1h0M401.6 210.6h0M405.3 229.6h0M405.7 221.3h0M393.1 233.4h0M405.3 216.6h0M408.2 229.9h0M412.4 228.6h0M403.1 204.6h0M408.3 231.8h0M407.6 221.8h0M375.6 232.4h0M404.5 233.9h0M406.0 227.4h0M409.0 229.1h0M408.6 234.2h0M406.7 233.4h0M400.4 218.3h0M412.3 233.6h0M403.5 226.4h0M409.3 227.3h0M402.6 222.7h0M405.8 227.2h0M400.1 232.9h0M411.1 230.9h0M405.5 218.8h0M389.6 234.2h0M412.0 179.1h0M409.8 231.0h0M389.9 215.6h0M410.7 227.1h0M399.9 222.2h0M410.7 232.8h0M413.1 214.6h0M401.8 229.7h0M412.6 233.6h0M386.8 228.9h0M412.9 232.6h0M405.9 233.2h0M406.5 227.3h0M409.5 232.4h0M409.3 227.0h0M411.3 232.6h0M411.2 229.1h0M412.8 223.3h0M409.0 232.2h0M400.1 188.6h0M402.3 222.9h0M410.4 230.2h0M408.7 229.9h0M392.2 230.2h0M411.3 234.2h0M404.3 228.8h0M400.6 223.7h0M402.3 211.7h0M410.3 229.6h0M368.0 150.3h0M412.8 229.7h0M376.6 233.9h0M400.9 230.1h0M395.6 231.2h0M412.5 231.4h0M412.4 220.7h0M381.0 233.5h0M405.2 231.2h0M398.8 227.7h0M409.8 229.7h0M408.0 228.5h0M412.0 228.0h0M413.1 225.9h0M393.3 229.5h0M407.1 232.6h0M401.2 210.8h0M413.3 224.9h0M412.1 234.2h0M409.4 215.6h0M411.6 223.9h0M407.1 228.7h0M396.9 233.8h0M402.5 232.6h0M411.6 223.0h0M388.9 234.2h0M402.8 211.5h0M411.8 232.3h0M402.0 169.6h0M404.1 226.4h0M407.0 233.4h0M410.5 229.9h0M413.4 210.3h0M411.0 233.4h0M390.0 231.1h0M406.9 210.3h0M410.9 230.9h0M412.8 201.2h0M412.2 230.6h0M404.3 211.6h0M401.3 233.5h0M412.0 231.4h0M413.4 222.0h0M413.0 234.1h0M404.7 193.2h0M412.8 232.4h0M412.8 233.0h0M411.8 231.3h0M409.0 231.7h0M406.8 226.2h0M413.3 228.7h0M410.9 234.3h0M405.1 200.7h0M386.6 232.0h0M405.7 231.6h0M390.7 233.7h0M411.3 226.1h0M402.0 191.4h0M410.4 223.0h0M412.4 169.6h0M394.3 226.9h0M383.0 196.5h0M392.4 195.4h0M382.6 231.8h0M408.2 233.5h0M412.9 217.9h0M411.1 228.8h0M409.8 222.8h0M388.0 234.1h0M411.5 203.0h0M408.4 231.9h0M413.5 234.4h0M411.5 206.2h0M412.9 213.5h0M409.4 226.8h0M387.3 225.3h0M410.3 232.1h0M407.6 215.2h0M403.8 214.2h0M407.4 233.3h0M410.1 233.2h0M405.4 215.7h0M396.3 234.3h0M409.6 224.1h0M405.9 202.2h0M412.8 228.3h0M411.9 234.2h0M413.1 229.9h0M407.6 224.1h0M412.7 227.8h0M392.9 221.0h0M394.5 215.6h0M387.0 233.4h0M407.5 234.2h0M411.6 228.9h0M406.7 233.4h0M407.6 227.6h0M366.6 234.2h0M409.0 224.7h0M397.4 230.5h0M409.4 231.8h0M396.8 234.0h0M406.3 233.4h0M410.0 228.9h0M407.9 228.6h0M399.5 233.0h0M399.7 230.5h0M412.6 221.3h0M412.9 215.7h0M409.8 228.9h0M396.0 232.0h0M403.9 233.7h0M406.8 230.6h0M398.6 207.4h0M407.6 230.6h0M397.7 233.0h0M412.8 191.7h0M373.6 234.1h0M391.1 208.1h0M409.1 233.5h0M384.8 201.1h0M408.4 232.1h0M404.8 225.9h0M410.1 227.3h0M407.6 232.3h0M412.4 224.0h0M406.9 231.7h0M412.3 212.6h0M412.2 214.2h0M404.4 210.0h0M393.5 176.3h0M406.9 231.6h0M410.6 228.2h0M410.8 223.3h0M402.7 203.6h0M407.0 232.7h0M412.9 224.9h0M410.1 201.2h0M412.6 228.3h0M412.7 205.8h0M411.1 199.5h0M409.5 233.0h0M410.0 232.4h0M413.3 217.5h0M409.8 230.8h0M413.0 225.1h0M413.4 224.3h0M409.9 233.8h0M410.8 213.1h0M397.2 222.4h0M412.3 207.0h0M408.3 233.8h0M410.2 233.4h0M375.3 232.9h0M368.0 233.7h0M403.9 227.8h0M408.7 231.2h0M401.6 215.0h0M398.6 205.4h0M412.5 234.1h0M393.1 232.2h0M409.5 229.4h0M403.9 232.0h0M398.0 234.4h0M412.6 198.6h0M411.6 225.7h0M403.0 225.5h0M411.4 224.1h0M406.4 233.7h0M412.1 229.9h0M413.5 162.1h0M409.0 231.5h0M377.4 231.1h0M397.2 188.4h0M412.7 233.3h0M398.8 220.1h0M412.7 231.8h0M406.9 226.8h0M408.0 224.2h0M410.6 230.8h0M401.6 227.8h0M412.0 233.6h0M410.7 234.2h0M410.0 217.5h0M413.3 228.1h0M411.2 233.5h0M396.0 226.4h0M412.8 234.3h0M411.0 213.0h0M412.7 230.9h0M404.2 226.5h0M409.7 231.8h0M403.5 232.6h0M389.3 219.1h0M360.7 234.3h0M390.5 233.3h0M411.2 230.9h0M402.6 230.6h0M394.3 195.2h0M411.4 232.3h0M395.3 229.0h0M412.8 229.7h0M409.6 230.1h0M413.2 231.2h0M408.7 220.6h0M413.4 227.7h0M409.2 231.6h0M413.2 232.3h0M412.8 234.2h0M413.4 221.9h0M409.8 230.0h0M412.9 225.3h0M407.0 227.4h0M406.8 208.3h0M392.0 212.9h0M407.6 221.7h0M406.4 206.0h0M413.0 211.2h0M404.8 194.7h0M409.4 231.6h0M392.0 233.8h0M404.6 230.4h0M410.0 198.7h0M411.9 226.5h0M399.2 205.1h0M405.7 226.6h0M396.1 229.9h0M409.4 231.9h0M399.7 218.2h0M409.8 232.5h0M412.4 227.6h0M409.5 231.0h0M386.6 189.9h0M396.6 206.7h0M409.6 228.3h0M409.4 154.7h0M413.4 233.8h0M405.2 223.5h0M411.8 232.7h0M391.7 229.3h0M391.8 213.3h0M407.4 211.6h0M406.7 229.1h0M403.1 227.9h0M412.0 175.7h0M411.9 215.2h0M361.2 233.2h0M397.1 220.5h0M405.1 223.7h0M413.1 233.3h0M407.1 197.2h0M380.6 233.7h0M402.2 226.8h0M412.9 196.1h0M398.0 224.1h0M409.7 227.6h0M412.4 234.3h0M411.8 232.8h0M410.1 227.3h0M402.7 212.7h0M404.6 212.5h0M409.4 227.5h0M406.6 234.0h0M390.4 216.1h0M397.7 181.1h0M369.4 224.2h0M407.5 228.3h0M404.5 226.9h0M402.2 228.6h0M374.6 233.2h0M368.6 224.1h0M408.7 213.0h0M410.8 205.5h0M411.5 227.4h0M411.2 231.4h0M407.7 231.1h0M409.6 171.5h0M408.7 232.9h0M411.3 221.0h0M409.3 230.0h0M408.7 234.0h0M411.4 224.4h0M402.0 219.4h0M400.6 233.4h0M404.7 223.5h0M367.3 234.3h0M404.2 219.0h0M391.5 230.1h0M388.2 231.5h0M406.5 232.6h0M411.2 228.8h0M406.6 220.4h0M362.7 232.8h0M402.4 233.8h0M412.8 232.6h0M393.5 233.6h0M413.5 208.2h0M399.6 224.3h0M409.8 234.2h0M413.2 222.0h0M402.7 210.1h0M402.0 227.7h0M405.3 225.5h0M410.5 228.8h0M409.4 176.0h0M412.2 234.4h0M368.2 231.8h0M412.9 231.4h0M407.5 228.6h0M386.7 234.2h0M412.5 234.2h0M410.1 231.7h0M385.9 233.3h0M412.5 233.9h0M393.7 233.5h0M411.0 215.1h0M401.1 229.7h0M391.7 219.7h0M406.1 211.9h0M398.2 234.0h0M413.3 221.8h0M413.0 231.8h0M409.9 228.7h0M412.6 221.7h0M409.8 224.6h0M402.5 232.7h0M403.5 234.4h0M406.2 213.5h0M370.5 234.2h0M409.3 232.4h0M412.7 214.7h0M413.2 233.6h0M364.3 233.0h0M387.0 233.3h0M386.3 230.5h0M412.7 233.9h0M404.6 223.6h0M407.0 233.5h0M407.8 228.3h0M396.7 231.9h0M412.6 230.4h0M400.6 227.6h0M407.1 194.0h0M396.6 207.2h0M410.8 234.0h0M407.4 163.0h0M409.9 222.4h0M368.0 233.0h0M410.5 189.0h0M406.3 216.3h0M412.0 220.4h0M409.6 233.9h0M402.7 226.4h0M407.7 224.7h0M403.6 229.4h0M412.5 230.7h0M412.7 233.9h0M412.6 224.0h0M394.2 221.0h0M411.5 223.5h0M403.6 217.8h0M412.1 231.0h0M386.0 219.5h0M413.2 229.5h0M396.5 233.0h0M413.4 234.2h0M393.9 231.6h0M408.1 232.7h0M390.3 211.6h0M407.6 232.3h0M410.7 200.6h0M392.2 227.3h0M375.1 234.2h0M410.0 232.4h0M407.5 232.7h0M404.0 233.5h0M410.5 226.9h0M396.6 167.8h0M374.2 232.6h0M405.2 227.9h0M408.2 232.7h0M394.4 213.2h0M413.4 231.7h0M401.6 229.7h0M404.6 221.0h0M405.7 221.0h0M412.7 230.9h0M385.4 204.5h0M406.5 224.3h0M403.6 233.8h0M411.5 233.0h0M413.0 230.0h0M407.0 228.9h0M407.3 218.6h0M409.6 227.5h0M405.1 229.2h0M373.7 233.9h0M410.3 226.6h0M405.1 226.8h0M393.9 210.5h0M379.0 228.6h0M413.0 234.3h0M401.4 218.5h0M408.1 211.9h0M403.9 221.2h0M405.7 232.8h0M401.9 225.1h0M379.2 234.3h0M409.3 231.4h0M411.7 181.8h0M408.9 200.4h0M401.0 234.3h0M361.9 234.0h0M407.6 231.4h0M409.8 222.3h0M408.6 230.6h0M398.5 219.2h0M393.8 229.0h0M408.5 222.4h0M406.9 230.4h0M412.4 232.8h0M410.0 228.9h0M407.4 230.6h0M397.9 229.9h0M376.5 234.1h0M405.6 231.0h0M410.7 201.7h0M400.5 231.0h0M408.0 230.0h0M405.7 184.7h0M412.6 161.2h0M413.2 224.3h0M413.4 233.2h0M401.7 234.3h0M413.5 234.0h0M409.2 213.8h0M395.1 219.5h0M402.8 206.3h0M409.4 233.7h0M407.2 207.6h0M403.1 232.5h0M412.6 229.8h0M409.1 227.5h0M406.1 229.1h0M361.5 227.6h0M380.2 233.9h0M413.0 228.2h0M413.3 233.9h0M411.5 229.3h0M407.9 231.7h0M363.2 218.2h0M408.6 227.2h0M398.8 229.6h0M412.5 232.1h0M411.6 220.7h0M395.2 231.0h0M385.8 224.4h0M407.1 225.9h0M406.7 219.3h0M409.9 222.0h0M410.4 225.6h0M409.4 230.1h0M405.1 232.6h0M411.7 229.0h0M406.2 231.1h0M405.9 232.5h0M411.7 232.3h0M379.2 233.5h0M407.2 233.6h0M412.7 234.2h0M381.5 201.7h0M405.1 227.9h0M404.3 234.0h0M403.9 225.7h0M409.0 224.8h0M406.4 231.0h0M412.2 230.0h0M407.6 217.6h0M403.6 225.6h0M406.3 199.1h0M365.1 233.4h0M405.8 229.7h0M406.6 232.7h0M405.9 218.9h0M411.8 232.2h0M392.8 228.0h0M409.8 231.0h0M400.0 210.1h0M401.2 175.2h0M409.8 228.1h0M402.3 231.2h0M406.5 226.9h0M411.5 230.5h0M393.1 232.9h0M366.6 234.2h0M400.0 234.0h0M395.7 227.7h0M396.4 231.1h0M412.6 226.5h0M402.7 232.3h0M412.1 229.5h0M408.0 229.1h0M408.3 188.5h0M405.5 200.1h0M411.3 229.6h0M383.7 215.5h0M395.1 230.6h0M404.4 228.5h0M405.9 229.5h0M409.5 231.8h0M412.0 229.5h0M413.4 230.0h0M408.6 195.8h0M403.3 228.8h0M409.5 166.1h0M394.2 227.6h0M405.1 233.4h0M410.5 232.0h0M412.4 231.3h0M403.4 231.8h0M408.2 173.4h0M401.8 166.8h0M388.0 199.8h0M412.9 226.9h0M407.3 234.3h0M412.8 225.3h0M401.8 228.4h0M406.5 232.8h0M408.4 182.6h0M411.5 232.2h0M384.5 234.2h0M402.9 187.5h0M411.0 226.8h0M406.0 227.7h0M413.2 233.2h0M412.3 232.4h0M413.4 230.0h0M411.9 232.7h0M412.8 231.9h0M411.3 225.3h0M406.4 226.6h0M402.6 231.4h0M412.5 225.0h0M411.9 233.1h0M360.7 227.2h0M400.9 219.1h0M412.3 228.3h0M406.3 234.1h0M412.8 225.8h0M411.4 225.4h0M410.3 226.1h0M413.2 234.2h0M363.1 233.9h0M376.8 233.6h0M409.9 228.8h0M406.8 231.9h0M411.3 223.2h0M408.8 234.0h0M405.5 233.3h0M380.3 228.8h0M399.4 177.1h0M410.3 226.0h0M409.5 232.5h0M400.9 201.6h0M402.3 233.0h0M388.1 218.5h0M409.0 231.2h0M412.1 225.0h0M413.2 218.5h0M403.5 231.1h0M391.3 233.9h0M412.4 232.5h0M412.4 234.1h0M403.0 229.6h0M381.5 234.0h0M403.5 197.4h0M400.6 228.3h0M405.1 226.2h0M412.4 211.7h0M403.3 228.6h0M412.8 226.8h0M412.4 233.7h0M401.3 228.5h0M413.0 223.6h0M402.0 230.5h0M413.5 231.2h0M393.5 234.2h0M405.1 225.9h0M413.0 223.0h0M361.9 233.8h0M404.9 228.2h0M399.9 222.8h0M380.0 234.0h0M398.7 219.7h0M387.6 232.9h0M409.5 212.5h0M404.3 181.0h0M401.2 210.7h0M406.5 231.0h0M411.5 231.7h0M405.9 228.0h0M403.7 226.1h0M398.8 233.3h0M409.6 232.3h0M411.4 234.1h0M413.2 234.2h0M404.7 221.4h0M408.3 230.0h0M411.9 233.4h0M410.6 229.2h0M410.5 218.9h0M404.8 233.0h0M400.8 207.7h0M390.3 163.3h0M409.3 229.2h0M412.2 231.1h0M406.8 231.5h0M397.8 194.1h0M411.1 234.1h0M400.4 232.3h0M388.5 231.5h0M407.8 177.0h0M409.5 228.2h0M397.6 231.9h0M412.8 233.0h0M403.6 217.5h0M406.3 210.8h0M406.8 209.1h0M405.5 231.3h0M413.0 231.0h0M393.8 234.1h0M412.3 232.6h0M411.2 190.4h0M408.7 227.2h0M405.9 231.6h0M397.2 233.1h0M410.8 218.4h0M411.4 224.2h0M408.9 233.9h0M409.0 229.8h0M408.0 232.2h0M344.3 229.1h0M346.5 230.7h0M343.8 232.2h0M350.7 228.3h0M348.8 230.9h0M349.6 231.3h0M350.4 231.0h0M351.1 231.3h0M351.9 231.6h0M352.7 231.7h0M353.5 231.6h0M354.2 232.0h0M355.0 231.7h0M355.8 232.1h0M356.6 232.2h0M357.4 232.4h0M358.1 232.4h0M358.9 232.3h0M370.0 43.2h0M375.5 43.2h0M385.0 43.2h0M408.6 43.2h0M408.6 52.3h0M374.0 79.5h0M409.6 102.0h0M406.0 107.6h0M409.0 133.0h0M405.7 139.0h0M408.5 133.2h0M403.0 140.0h0M405.5 139.5h0M405.0 145.0h0M379.3 149.8h0M362.0 154.5h0M410.5 154.0h0M394.0 157.0h0M378.3 161.8h0M389.5 160.3h0M404.5 160.5h0M406.5 164.5h0M395.0 166.0h0M378.8 169.5h0M397.5 169.5h0M388.0 174.0h0M397.0 174.5h0" stroke="#3b97e8" stroke-width="1.7" stroke-linecap="round" fill="none"/>
<path d="M439.2 219.1h0M438.6 229.1h0M438.7 228.5h0M435.7 228.4h0M443.7 227.4h0M456.3 214.5h0M443.5 231.5h0M438.9 234.0h0M436.3 234.2h0M437.9 223.4h0M440.3 230.3h0M440.4 229.0h0M492.2 233.2h0M438.3 230.0h0M435.2 225.8h0M444.8 231.5h0M485.9 234.4h0M447.7 230.6h0M466.7 234.3h0M448.5 229.2h0M437.0 214.7h0M436.0 229.7h0M435.2 224.9h0M439.2 230.9h0M441.9 233.5h0M436.0 225.3h0M436.5 213.4h0M438.1 198.5h0M437.5 223.0h0M435.8 159.1h0M436.4 225.6h0M436.7 233.9h0M439.5 232.7h0M439.1 224.4h0M470.4 233.8h0M436.7 231.6h0M447.5 206.0h0M442.0 217.7h0M450.8 221.7h0M439.8 232.6h0M452.4 232.8h0M437.5 205.6h0M438.0 231.2h0M435.5 230.1h0M452.2 218.6h0M448.1 233.0h0M436.5 230.9h0M435.9 231.6h0M436.1 226.9h0M464.2 186.2h0M442.8 231.9h0M434.9 220.1h0M464.6 234.0h0M440.8 212.6h0M474.0 233.9h0M446.9 196.1h0M445.9 208.2h0M438.1 184.0h0M450.1 199.6h0M452.9 220.3h0M439.2 219.9h0M435.6 217.4h0M487.2 233.5h0M441.9 229.2h0M444.6 233.9h0M435.1 219.1h0M436.2 227.3h0M439.9 219.4h0M434.9 232.2h0M436.9 231.3h0M442.9 198.5h0M437.8 185.5h0M437.9 224.7h0M450.7 201.0h0M438.3 231.9h0M444.5 223.2h0M462.0 229.0h0M438.0 232.5h0M437.7 228.5h0M436.9 223.5h0M469.0 234.3h0M445.8 234.1h0M442.5 228.2h0M435.0 231.9h0M435.0 223.9h0M435.7 234.1h0M440.2 217.9h0M449.8 181.6h0M436.9 223.7h0M434.9 230.6h0M436.6 229.1h0M441.2 230.0h0M447.6 226.1h0M456.3 232.9h0M444.4 209.7h0M440.1 220.1h0M439.3 221.8h0M461.0 224.0h0M436.9 213.1h0M444.1 213.4h0M447.1 211.0h0M472.6 233.4h0M447.7 222.9h0M435.3 230.9h0M448.1 223.3h0M443.7 234.0h0M436.6 227.6h0M436.2 231.7h0M441.7 223.5h0M461.2 223.1h0M453.4 234.2h0M438.0 212.7h0M441.5 203.6h0M438.2 226.4h0M455.7 230.5h0M466.1 222.0h0M436.9 221.6h0M439.8 234.2h0M471.7 234.0h0M442.3 223.2h0M435.5 221.5h0M451.6 219.1h0M438.3 233.6h0M443.9 220.7h0M436.9 233.1h0M458.3 232.1h0M435.1 230.8h0M441.0 232.1h0M440.0 233.7h0M436.0 222.5h0M436.0 229.9h0M437.4 231.2h0M436.4 230.6h0M444.1 221.9h0M443.4 202.1h0M442.0 224.5h0M437.7 203.7h0M436.7 193.2h0M436.3 226.7h0M435.4 223.8h0M443.2 233.6h0M441.0 234.3h0M441.0 220.0h0M454.7 233.9h0M441.2 215.2h0M435.2 233.7h0M439.1 230.1h0M436.3 231.0h0M444.6 206.9h0M435.6 211.7h0M469.4 233.5h0M438.2 230.1h0M439.7 234.3h0M451.7 231.1h0M442.0 231.3h0M435.8 230.1h0M446.8 224.8h0M452.7 217.9h0M439.7 230.2h0M484.0 234.2h0M445.0 175.2h0M439.6 196.7h0M443.7 176.4h0M439.6 213.1h0M437.1 230.6h0M437.2 228.3h0M437.2 186.3h0M438.6 216.5h0M441.7 226.2h0M477.1 233.6h0M470.3 234.0h0M447.0 229.4h0M435.1 233.1h0M435.4 232.7h0M440.8 195.3h0M474.0 231.0h0M449.9 233.1h0M447.7 233.6h0M436.1 197.1h0M438.5 228.8h0M450.3 231.1h0M443.1 226.8h0M440.5 229.5h0M441.6 232.3h0M436.3 234.1h0M442.3 231.4h0M445.1 212.0h0M490.0 234.3h0M439.0 196.8h0M460.1 233.9h0M480.5 234.0h0M484.6 233.8h0M440.1 230.8h0M435.1 229.9h0M438.0 227.8h0M436.5 229.2h0M442.9 229.9h0M490.3 233.5h0M435.5 221.1h0M443.7 227.0h0M441.0 229.4h0M443.9 211.1h0M436.4 211.3h0M450.6 212.2h0M436.5 231.1h0M435.8 221.4h0M435.3 227.7h0M443.9 226.6h0M436.1 231.9h0M451.4 233.1h0M443.7 228.6h0M437.0 225.2h0M443.7 231.6h0M475.8 227.8h0M447.3 192.3h0M437.3 233.8h0M435.5 211.1h0M440.9 215.2h0M442.8 233.9h0M440.6 233.9h0M441.7 227.4h0M435.7 231.7h0M439.0 232.3h0M442.5 192.7h0M488.7 234.0h0M438.1 228.0h0M449.4 221.0h0M437.2 231.7h0M437.5 231.5h0M439.3 224.9h0M451.2 220.6h0M442.4 221.8h0M435.0 230.1h0M442.4 178.0h0M449.6 233.3h0M448.9 232.9h0M442.0 220.8h0M440.2 233.5h0M444.3 229.7h0M442.6 230.0h0M439.4 227.5h0M478.4 233.9h0M446.4 213.9h0M438.8 169.0h0M452.2 207.2h0M454.7 181.8h0M441.6 213.8h0M439.8 225.3h0M442.0 206.4h0M435.8 233.0h0M436.7 213.6h0M436.8 233.6h0M448.4 231.1h0M438.1 229.2h0M435.1 210.4h0M436.2 232.8h0M443.0 230.2h0M436.6 233.2h0M438.2 221.2h0M440.8 229.4h0M453.2 202.7h0M463.3 223.4h0M435.1 216.9h0M439.3 221.9h0M436.6 206.9h0M437.3 234.2h0M437.3 224.9h0M443.3 231.5h0M436.9 232.6h0M441.4 217.6h0M461.1 233.9h0M442.7 234.4h0M451.8 205.7h0M436.5 226.9h0M438.3 230.6h0M474.8 233.1h0M443.1 231.2h0M435.6 169.0h0M439.0 230.0h0M444.3 232.2h0M435.3 232.2h0M441.5 231.7h0M435.9 226.1h0M453.0 223.9h0M435.0 226.5h0M437.3 220.6h0M434.9 206.0h0M436.9 218.5h0M437.4 229.8h0M437.0 231.4h0M437.5 230.7h0M438.5 186.2h0M446.5 227.7h0M435.7 231.9h0M440.9 227.1h0M437.6 223.6h0M435.7 230.1h0M435.6 231.3h0M448.3 231.1h0M440.4 225.7h0M439.3 227.7h0M434.9 231.3h0M471.2 208.5h0M443.3 234.1h0M437.1 228.1h0M437.4 230.2h0M450.6 218.7h0M442.6 220.5h0M438.8 222.9h0M441.5 208.7h0M441.5 223.7h0M450.3 228.5h0M435.3 232.7h0M445.7 227.7h0M438.2 197.5h0M454.2 233.5h0M440.7 192.5h0M437.6 194.5h0M484.6 233.8h0M444.1 232.4h0M436.9 191.7h0M436.7 221.2h0M435.0 233.2h0M489.8 233.7h0M440.8 226.4h0M439.6 224.7h0M436.0 230.6h0M437.5 229.4h0M438.8 232.6h0M438.5 217.3h0M440.8 233.4h0M475.3 234.0h0M440.1 227.4h0M447.5 223.3h0M485.5 233.2h0M437.9 229.4h0M440.4 194.4h0M447.3 232.1h0M441.7 220.7h0M443.1 211.2h0M439.6 233.9h0M438.0 230.2h0M435.1 227.3h0M437.3 228.3h0M436.3 234.0h0M460.2 185.6h0M439.8 207.2h0M442.2 229.4h0M435.6 173.5h0M439.0 216.5h0M436.3 232.3h0M435.2 221.0h0M439.4 227.1h0M435.3 233.8h0M437.6 195.8h0M463.1 197.1h0M436.7 219.2h0M436.5 167.2h0M438.3 233.3h0M475.0 207.6h0M436.8 199.2h0M435.4 226.7h0M447.1 222.3h0M436.2 214.6h0M468.7 234.3h0M436.8 227.0h0M435.9 232.8h0M449.0 226.6h0M454.4 219.6h0M436.8 218.9h0M437.8 217.4h0M456.6 230.9h0M441.7 233.6h0M437.9 229.6h0M435.7 228.8h0M437.4 228.9h0M436.7 196.6h0M451.2 234.0h0M439.2 190.4h0M435.9 229.6h0M438.9 216.6h0M441.4 222.7h0M445.3 222.2h0M457.2 233.4h0M439.8 232.8h0M442.7 225.2h0M437.3 223.2h0M439.5 230.3h0M439.7 226.9h0M453.5 231.1h0M434.9 230.3h0M438.0 232.6h0M435.5 194.9h0M441.9 208.3h0M435.7 232.2h0M436.9 228.6h0M437.6 219.6h0M444.0 233.3h0M435.8 227.4h0M448.8 233.3h0M437.3 232.9h0M451.6 233.9h0M473.6 231.8h0M442.1 234.1h0M446.6 233.5h0M436.7 231.1h0M435.0 201.5h0M446.8 230.0h0M439.1 232.7h0M449.2 231.7h0M456.0 228.8h0M437.6 228.2h0M437.1 227.3h0M442.9 198.3h0M437.5 223.4h0M442.9 232.9h0M435.9 229.6h0M436.1 232.9h0M436.8 230.9h0M478.7 233.1h0M437.4 233.9h0M438.9 229.0h0M435.9 232.6h0M448.5 226.9h0M437.2 233.4h0M465.1 233.5h0M456.4 234.0h0M437.4 233.9h0M437.8 176.0h0M435.2 231.4h0M435.1 233.4h0M435.1 228.2h0M439.0 233.5h0M437.6 212.9h0M436.3 230.6h0M441.5 231.3h0M445.6 232.9h0M437.1 232.9h0M435.0 228.5h0M449.8 172.7h0M440.8 219.5h0M441.1 227.9h0M486.8 234.2h0M435.7 225.1h0M435.2 231.5h0M438.5 232.4h0M437.6 230.6h0M440.7 232.7h0M437.1 231.1h0M439.5 227.2h0M445.8 234.0h0M437.3 234.0h0M435.1 230.3h0M440.6 227.8h0M435.0 231.8h0M441.1 205.6h0M436.7 223.9h0M462.9 226.9h0M460.7 209.9h0M443.6 225.6h0M436.6 223.9h0M438.4 152.5h0M435.6 230.2h0M437.2 212.0h0M436.0 232.8h0M437.3 234.4h0M439.4 229.8h0M440.4 229.7h0M442.3 204.9h0M464.0 234.1h0M437.7 181.4h0M445.4 179.2h0M436.4 218.2h0M439.3 231.6h0M442.2 229.8h0M436.4 232.0h0M438.7 233.6h0M435.2 233.7h0M435.9 224.4h0M440.8 231.4h0M453.3 233.5h0M438.6 224.9h0M441.6 232.7h0M438.4 227.6h0M451.6 205.1h0M439.8 214.0h0M450.9 207.6h0M437.4 227.8h0M435.9 234.3h0M460.5 175.9h0M441.0 231.2h0M439.4 189.4h0M451.8 233.6h0M435.1 232.4h0M480.6 232.2h0M435.0 229.7h0M437.3 232.2h0M451.4 228.8h0M440.0 225.8h0M466.3 233.6h0M449.4 231.7h0M435.5 218.3h0M438.4 233.6h0M435.0 229.4h0M440.1 232.5h0M438.4 231.7h0M435.1 234.0h0M437.6 211.2h0M438.4 199.6h0M445.6 230.4h0M443.6 231.4h0M439.1 228.0h0M437.8 188.0h0M481.6 224.7h0M446.5 231.2h0M435.8 233.6h0M437.2 226.1h0M438.7 234.3h0M451.9 234.3h0M449.9 208.3h0M439.5 207.4h0M448.1 163.6h0M450.8 231.3h0M437.5 194.5h0M439.4 232.8h0M437.3 228.0h0M439.0 217.5h0M436.6 220.4h0M435.4 232.0h0M437.0 211.8h0M445.2 231.1h0M435.7 231.8h0M434.9 230.2h0M436.9 229.8h0M458.5 233.0h0M442.3 233.7h0M468.1 232.3h0M437.6 227.1h0M436.6 227.7h0M463.5 234.2h0M459.1 233.4h0M439.1 217.2h0M440.0 221.4h0M443.8 222.7h0M435.9 204.2h0M440.3 216.2h0M437.4 232.8h0M442.5 222.4h0M440.1 230.9h0M443.0 189.8h0M438.2 205.1h0M438.2 212.2h0M466.9 233.1h0M459.4 230.4h0M444.6 228.2h0M485.1 233.4h0M461.8 234.0h0M444.1 206.0h0M440.3 221.6h0M436.8 228.9h0M435.5 220.9h0M441.0 229.8h0M452.3 209.9h0M456.2 207.9h0M437.3 233.7h0M437.1 222.5h0M436.0 231.0h0M444.9 228.7h0M435.4 224.8h0M453.8 212.8h0M440.7 231.0h0M437.1 232.1h0M437.8 219.0h0M436.7 232.1h0M440.5 232.1h0M449.9 228.8h0M436.0 203.2h0M446.9 227.0h0M437.6 233.4h0M439.9 205.9h0M438.1 230.2h0M464.5 233.6h0M439.5 232.4h0M437.4 164.5h0M440.3 189.3h0M442.1 228.9h0M435.2 231.2h0M437.9 216.1h0M441.2 227.8h0M437.7 233.5h0M437.0 199.5h0M444.0 223.1h0M442.0 232.6h0M435.5 201.8h0M441.7 227.8h0M447.0 216.7h0M440.2 230.6h0M438.2 232.1h0M443.3 175.9h0M492.0 234.1h0M444.4 214.3h0M452.6 234.0h0M440.5 232.9h0M458.7 234.1h0M437.5 226.3h0M435.8 228.2h0M447.1 229.5h0M446.7 209.5h0M438.2 234.3h0M461.0 196.8h0M437.2 229.8h0M435.9 208.5h0M438.6 233.6h0M436.1 232.8h0M436.7 225.5h0M437.7 234.0h0M438.0 229.5h0M445.0 233.7h0M436.4 176.0h0M439.6 218.6h0M464.9 225.5h0M435.7 224.3h0M446.1 231.5h0M435.1 232.4h0M452.9 228.3h0M435.3 225.4h0M436.5 233.7h0M437.8 196.3h0M454.6 185.8h0M441.1 195.5h0M436.7 226.4h0M437.3 231.0h0M437.2 231.0h0M435.1 223.7h0M438.8 229.7h0M436.2 233.8h0M436.9 230.5h0M442.2 230.4h0M437.6 214.3h0M439.6 215.2h0M439.7 231.6h0M439.9 229.1h0M438.5 230.1h0M435.3 232.8h0M436.5 225.0h0M445.3 231.3h0M440.9 233.8h0M485.2 234.1h0M444.0 225.2h0M435.4 210.4h0M440.1 229.6h0M442.4 212.7h0M445.3 191.3h0M442.0 231.2h0M472.1 193.1h0M442.9 230.9h0M439.1 224.5h0M435.5 232.1h0M435.5 232.3h0M444.8 221.2h0M435.5 232.2h0M473.6 232.8h0M437.7 229.8h0M436.0 200.0h0M435.0 231.0h0M440.8 218.8h0M441.1 231.5h0M435.9 211.9h0M439.5 233.0h0M435.8 231.8h0M441.5 226.2h0M451.6 227.0h0M440.8 168.9h0M441.2 232.8h0M441.8 229.3h0M435.2 224.0h0M441.6 231.0h0M442.3 172.6h0M439.4 196.4h0M442.3 233.7h0M444.9 234.2h0M442.4 221.1h0M435.7 216.5h0M449.7 232.7h0M437.1 230.7h0M443.4 232.2h0M442.8 196.3h0M443.6 201.8h0M480.4 234.2h0M446.6 229.3h0M435.0 229.8h0M436.7 232.6h0M438.4 232.5h0M436.6 230.2h0M436.2 163.6h0M443.4 221.3h0M441.8 216.5h0M446.0 205.7h0M449.5 231.7h0M437.3 224.4h0M441.8 217.3h0M439.3 231.8h0M450.8 233.7h0M477.8 234.3h0M435.7 192.2h0M458.8 232.2h0M435.3 185.5h0M435.0 229.4h0M478.9 233.2h0M441.5 233.0h0M436.7 222.0h0M438.5 233.1h0M439.7 223.3h0M438.4 229.5h0M473.7 234.3h0M437.0 227.2h0M491.3 232.5h0M449.4 144.1h0M438.4 229.1h0M443.4 218.6h0M521.1 225.9h0M508.3 202.2h0M498.8 203.0h0M491.3 222.0h0M472.1 215.6h0M468.9 199.0h0M505.1 230.7h0M501.9 231.4h0M494.5 232.2h0M459.3 194.3h0M460.4 188.0h0M483.8 233.0h0M497.7 232.6h0M511.5 233.4h0M440.0 46.0h0M442.0 43.2h0M445.0 43.2h0M470.0 43.4h0M454.0 53.8h0M442.4 79.0h0M459.7 95.0h0M436.7 101.4h0M449.6 105.0h0M440.0 128.0h0M442.8 127.0h0M441.4 135.0h0M447.0 139.0h0M441.5 134.5h0M447.2 138.7h0M437.0 142.0h0M459.3 145.5h0M441.8 150.0h0M443.7 158.0h0M460.6 161.0h0M449.5 160.5h0M436.5 166.0h0M450.5 168.0h0" stroke="#e0151b" stroke-width="1.7" stroke-linecap="round" fill="none"/>
<path d="M413.6 29.9V235.4M434.8 29.9V235.4M338.5 235.1H530.4" stroke="#222" stroke-width=".9" stroke-dasharray="1.2 1.2" fill="none"/>
<path d="M338.5 29.9H530.4V235.4" stroke="#b5b5b5" stroke-width=".9" fill="none"/>
<path d="M338.5 29.9V238.4" stroke="#333" stroke-width="1" fill="none"/>
<text x="334.2" y="238.3" font-size="8.3" font-weight="bold" text-anchor="end" fill="#111">0</text>
<text x="334.2" y="222.5" font-size="8.3" font-weight="bold" text-anchor="end" fill="#111">20</text>
<text x="334.2" y="206.7" font-size="8.3" font-weight="bold" text-anchor="end" fill="#111">40</text>
<text x="334.2" y="190.9" font-size="8.3" font-weight="bold" text-anchor="end" fill="#111">60</text>
<text x="334.2" y="175.1" font-size="8.3" font-weight="bold" text-anchor="end" fill="#111">80</text>
<text x="334.2" y="159.3" font-size="8.3" font-weight="bold" text-anchor="end" fill="#111">100</text>
<text x="334.2" y="143.5" font-size="8.3" font-weight="bold" text-anchor="end" fill="#111">120</text>
<text x="334.2" y="127.6" font-size="8.3" font-weight="bold" text-anchor="end" fill="#111">140</text>
<text x="334.2" y="111.8" font-size="8.3" font-weight="bold" text-anchor="end" fill="#111">160</text>
<text x="334.2" y="96.0" font-size="8.3" font-weight="bold" text-anchor="end" fill="#111">180</text>
<text x="334.2" y="80.2" font-size="8.3" font-weight="bold" text-anchor="end" fill="#111">200</text>
<text x="334.2" y="64.4" font-size="8.3" font-weight="bold" text-anchor="end" fill="#111">220</text>
<text x="334.2" y="48.6" font-size="8.3" font-weight="bold" text-anchor="end" fill="#111">240</text>
<text x="334.2" y="32.8" font-size="8.3" font-weight="bold" text-anchor="end" fill="#111">260</text>
<text x="339.0" y="246.2" font-size="8.3" font-weight="bold" text-anchor="middle" fill="#111">-8</text>
<text x="360.3" y="246.2" font-size="8.3" font-weight="bold" text-anchor="middle" fill="#111">-6</text>
<text x="381.6" y="246.2" font-size="8.3" font-weight="bold" text-anchor="middle" fill="#111">-4</text>
<text x="402.9" y="246.2" font-size="8.3" font-weight="bold" text-anchor="middle" fill="#111">-2</text>
<text x="424.2" y="246.2" font-size="8.3" font-weight="bold" text-anchor="middle" fill="#111">0</text>
<text x="445.5" y="246.2" font-size="8.3" font-weight="bold" text-anchor="middle" fill="#111">2</text>
<text x="466.8" y="246.2" font-size="8.3" font-weight="bold" text-anchor="middle" fill="#111">4</text>
<text x="488.1" y="246.2" font-size="8.3" font-weight="bold" text-anchor="middle" fill="#111">6</text>
<text x="509.4" y="246.2" font-size="8.3" font-weight="bold" text-anchor="middle" fill="#111">8</text>
<text x="530.7" y="246.2" font-size="8.3" font-weight="bold" text-anchor="middle" fill="#111">10</text>
<path d="M338.5 235.4h-2.5M338.5 219.6h-2.5M338.5 203.8h-2.5M338.5 188.0h-2.5M338.5 172.2h-2.5M338.5 156.4h-2.5M338.5 140.6h-2.5M338.5 124.7h-2.5M338.5 108.9h-2.5M338.5 93.1h-2.5M338.5 77.3h-2.5M338.5 61.5h-2.5M338.5 45.7h-2.5M338.5 29.9h-2.5M339.0 235.4v2M360.3 235.4v2M381.6 235.4v2M402.9 235.4v2M424.2 235.4v2M445.5 235.4v2M466.8 235.4v2M488.1 235.4v2M509.4 235.4v2M530.7 235.4v2" stroke="#222" stroke-width=".9" fill="none"/>
<text x="425" y="258.3" font-size="10.3" font-weight="bold" text-anchor="middle" fill="#111">Log2FC</text>
<text transform="translate(317.8 133) rotate(-90)" font-size="10.25" font-weight="bold" text-anchor="middle" fill="#111">-Log10 (Padjust)</text>
<circle cx="467" cy="36.5" r="3.2" fill="#e1191d"/>
<text x="472.3" y="39.6" font-size="8.85" font-weight="bold" fill="#111">up (734)</text>
<circle cx="467" cy="48.9" r="3.2" fill="#a9a9a9"/>
<text x="472.3" y="52.0" font-size="8.85" font-weight="bold" fill="#111">nosig (48188)</text>
<circle cx="467" cy="61.3" r="3.2" fill="#3d9be9"/>
<text x="472.3" y="64.4" font-size="8.85" font-weight="bold" fill="#111">down (863)</text>
<text x="567.2" y="28.8" font-size="20.5" fill="#111">c</text>
<text x="663" y="24.2" font-size="8.7" font-weight="bold" fill="#111" textLength="209.5" lengthAdjust="spacingAndGlyphs">GO enrichment analysis (NaCl/CDs_vs_NaCl G)</text>
<rect x="768.6" y="33.2" width="105.10000000000002" height="200.60000000000002" fill="#fff"/>
<path d="M768.6 37.7H873.7M768.6 47.7H873.7M768.6 57.8H873.7M768.6 67.8H873.7M768.6 77.9H873.7M768.6 87.9H873.7M768.6 98.0H873.7M768.6 108.0H873.7M768.6 118.1H873.7M768.6 128.1H873.7M768.6 138.2H873.7M768.6 148.2H873.7M768.6 158.3H873.7M768.6 168.3H873.7M768.6 178.4H873.7M768.6 188.4H873.7M768.6 198.5H873.7M768.6 208.5H873.7M768.6 218.5H873.7M768.6 228.6H873.7M794.9 33.2V233.8M821.1 33.2V233.8M847.3 33.2V233.8" stroke="#e6e6e6" stroke-width=".7" fill="none"/>
<rect x="768.6" y="33.2" width="105.10000000000002" height="200.60000000000002" fill="none" stroke="#555" stroke-width=".9"/>
<text x="766.3" y="40.2" font-size="9.2" text-anchor="end" fill="#000">Plasma membrane</text>
<text x="766.3" y="50.2" font-size="9.2" text-anchor="end" fill="#000">Transmembrane transport</text>
<text x="766.3" y="60.2" font-size="9.2" text-anchor="end" fill="#000">Response to stimulus</text>
<text x="766.3" y="71.2" font-size="9.2" text-anchor="end" fill="#000">Extracellular region</text>
<text x="766.3" y="81.2" font-size="9.2" text-anchor="end" fill="#000">Transmembrane transporter activity</text>
<text x="766.3" y="91.2" font-size="9.2" text-anchor="end" fill="#000">Transporter activity</text>
<text x="766.3" y="101.2" font-size="9.2" text-anchor="end" fill="#000">Molecular_function</text>
<text x="766.3" y="111.0" font-size="9.2" text-anchor="end" fill="#000">Response to inorganic substance</text>
<text x="766.3" y="122.2" font-size="9.2" text-anchor="end" fill="#000">DNA-binding transcription factor activity</text>
<text x="766.3" y="131.8" font-size="9.2" text-anchor="end" fill="#000">Amino acid transport</text>
<text x="766.3" y="141.7" font-size="9.2" text-anchor="end" fill="#000">Amino acid transmembrane transporter activity</text>
<text x="766.3" y="151.2" font-size="9.2" text-anchor="end" fill="#000">Response to chemical</text>
<text x="766.3" y="161.2" font-size="9.2" text-anchor="end" fill="#000">Response to external stimulus</text>
<text x="766.3" y="170.7" font-size="9.2" text-anchor="end" fill="#000">Glucosyltransferase activity</text>
<text x="766.3" y="182.2" font-size="9.2" text-anchor="end" fill="#000">Catalytic activity</text>
<text x="766.3" y="192.7" font-size="9.2" text-anchor="end" fill="#000">Defense response</text>
<text x="766.3" y="203.2" font-size="9.2" text-anchor="end" fill="#000">Heme binding</text>
<text x="766.3" y="213.9" font-size="9.2" text-anchor="end" fill="#000">Response to stress</text>
<text x="766.3" y="223.2" font-size="9.2" text-anchor="end" fill="#000">Tetrapyrrole binding</text>
<text x="766.3" y="234.0" font-size="9.2" text-anchor="end" fill="#000">Hydrolase activity, hydrolyzing O-glycosyl compounds</text>
<circle cx="805.7" cy="37.7" r="1.7" fill="#3f68a8"/>
<path d="M810 45.6l2.2 3.8h-4.4z" fill="#456fae"/>
<path d="M794.5 55.1l2.9 4.9h-5.7z" fill="#4a72b0"/>
<circle cx="808.5" cy="67.8" r="1.2" fill="#3f68a8"/>
<rect x="796.5" y="76.4" width="3.0" height="3.0" fill="#3f68a8"/>
<rect x="796.4" y="86.3" width="3.2" height="3.2" fill="#3f68a8"/>
<rect x="783.6" y="94.7" width="6.6" height="6.6" fill="#426eb0"/>
<path d="M820.7 106.3l1.8 3.0h-3.5z" fill="#456fae"/>
<rect x="797.2" y="116.7" width="2.8" height="2.8" fill="#3f68a8"/>
<path d="M848.7 126.5l1.7 2.8h-3.3z" fill="#456fae"/>
<circle cx="852.2" cy="138.2" r="1.0" fill="#4d73ad"/>
<path d="M801.6 146.3l2.0 3.4h-4.0z" fill="#5580b8"/>
<path d="M802.7 156.3l2.1 3.6h-4.2z" fill="#5580b8"/>
<circle cx="815.7" cy="168.3" r="1.2" fill="#4d73ad"/>
<rect x="785.7" y="175.8" width="5.2" height="5.2" fill="#7f9fc3"/>
<path d="M804 186.6l1.9 3.2h-3.7z" fill="#a9b6c4"/>
<circle cx="805" cy="198.5" r="1.2" fill="#bcc3c8"/>
<path d="M793.9 206.0l2.6 4.6h-5.3z" fill="#d7d3bf"/>
<circle cx="803" cy="218.5" r="0.9" fill="#f1efe2"/>
<path d="M806.7 227.0l1.7 2.8h-3.3z" fill="#f3f0df"/>
<text x="768.8" y="241.8" font-size="6.5" font-weight="bold" text-anchor="middle" fill="#111">0</text>
<text x="794.9" y="241.8" font-size="6.5" font-weight="bold" text-anchor="middle" fill="#111">0.05</text>
<text x="821.1" y="241.8" font-size="6.5" font-weight="bold" text-anchor="middle" fill="#111">0.1</text>
<text x="847.3" y="241.8" font-size="6.5" font-weight="bold" text-anchor="middle" fill="#111">0.15</text>
<text x="873.5" y="241.8" font-size="6.5" font-weight="bold" text-anchor="middle" fill="#111">0.2</text>
<text x="821.7" y="252.6" font-size="9.3" font-weight="bold" text-anchor="middle" fill="#111">Rich factor</text>
<rect x="885" y="50" width="9" height="45.5" fill="url(#gc)"/>
<text x="883.5" y="46.5" font-size="6" font-weight="bold" fill="#111">Padjust</text>
<text x="896" y="52.2" font-size="6" font-weight="bold" fill="#111">5.00e-4</text>
<text x="896" y="61.3" font-size="6" font-weight="bold" fill="#111">4.00e-4</text>
<text x="896" y="70.4" font-size="6" font-weight="bold" fill="#111">3.00e-4</text>
<text x="896" y="79.5" font-size="6" font-weight="bold" fill="#111">2.00e-4</text>
<text x="896" y="88.6" font-size="6" font-weight="bold" fill="#111">1.00e-4</text>
<text x="896" y="97.7" font-size="6" font-weight="bold" fill="#111">0.00e+0</text>
<text x="882.5" y="131" font-size="6" font-weight="bold" fill="#111">Type</text>
<circle cx="884.8" cy="138.1" r="3" fill="#111"/>
<path d="M884.8 144.6l3.2 5.6h-6.4z" fill="#111"/>
<rect x="882" y="155.1" width="5.6" height="5.6" fill="#111"/>
<text x="890.7" y="140.2" font-size="6" font-weight="bold" fill="#111">Cellular Component</text>
<text x="890.7" y="149.9" font-size="6" font-weight="bold" fill="#111">Biological Process</text>
<text x="890.7" y="160.1" font-size="6" font-weight="bold" fill="#111">Molecular Function</text>
<text x="882.5" y="182.2" font-size="6" font-weight="bold" fill="#111">Number</text>
<circle cx="884.8" cy="188.8" r="1.0" fill="#111"/>
<text x="892.8" y="190.9" font-size="6" font-weight="bold" fill="#111">17</text>
<circle cx="884.8" cy="198.1" r="2.2" fill="#111"/>
<text x="892.8" y="200.2" font-size="6" font-weight="bold" fill="#111">371</text>
<circle cx="884.8" cy="207.2" r="3.0" fill="#111"/>
<text x="892.8" y="209.3" font-size="6" font-weight="bold" fill="#111">725</text>
<circle cx="884.8" cy="218.1" r="4.0" fill="#111"/>
<text x="892.8" y="220.2" font-size="6" font-weight="bold" fill="#111">1089</text>
<text x="12.7" y="292.5" font-size="20.5" fill="#111">d</text>
<text x="107.5" y="289.2" font-size="8.8" font-weight="bold" fill="#111" textLength="240.5" lengthAdjust="spacingAndGlyphs">KEGG enrichment analysis (NaCl/CDs_vs_NaCl G)</text>
<rect x="240.2" y="298.4" width="107.60000000000002" height="202.60000000000002" fill="#fff"/>
<path d="M240.2 315.2H347.8M240.2 348.9H347.8M240.2 382.7H347.8M240.2 416.4H347.8M240.2 450.2H347.8M240.2 484H347.8M261.7 298.4V501M283.2 298.4V501M304.7 298.4V501M326.2 298.4V501" stroke="#e6e6e6" stroke-width=".7" fill="none"/>
<path d="M240.2 298.4H347.8V501" stroke="#c8c8c8" stroke-width=".8" fill="none"/>
<path d="M240.2 298.4V501H347.8" stroke="#666" stroke-width="1.1" fill="none"/>
<text x="236.5" y="318.4" font-size="9.65" text-anchor="end" fill="#000">Glycolysis / Gluconeogenesis</text>
<text x="236.5" y="350.6" font-size="9.65" text-anchor="end" fill="#000">Phenylpropanoid biosynthesis</text>
<text x="236.5" y="384.2" font-size="9.65" text-anchor="end" fill="#000">Benzoxazinoid biosynthesis</text>
<text x="236.5" y="419.0" font-size="9.65" text-anchor="end" fill="#000">Alanine, aspartate and glutamate metabolism</text>
<text x="236.5" y="452.7" font-size="9.65" text-anchor="end" fill="#000">Pyruvate metabolism</text>
<text x="236.5" y="486.9" font-size="9.65" text-anchor="end" fill="#000">Biosynthesis of various plant secondary metabolites</text>
<circle cx="252" cy="315.2" r="2.9" fill="#3f6fb0"/>
<circle cx="255" cy="348.9" r="3.2" fill="#6a92c4"/>
<circle cx="321.5" cy="382.7" r="0.8" fill="#b5b5b5"/>
<circle cx="272.3" cy="416.4" r="2.3" fill="#c9cbc8"/>
<circle cx="260.5" cy="450.2" r="2.7" fill="#f7e0a8"/>
<circle cx="269" cy="484" r="2.5" fill="#c4352b"/>
<text x="239.9" y="508.5" font-size="5.4" font-weight="bold" text-anchor="middle" fill="#111">0.06</text>
<text x="261.7" y="508.5" font-size="5.4" font-weight="bold" text-anchor="middle" fill="#111">0.08</text>
<text x="283.2" y="508.5" font-size="5.4" font-weight="bold" text-anchor="middle" fill="#111">0.1</text>
<text x="304.7" y="508.5" font-size="5.4" font-weight="bold" text-anchor="middle" fill="#111">0.12</text>
<text x="326.2" y="508.5" font-size="5.4" font-weight="bold" text-anchor="middle" fill="#111">0.14</text>
<text x="348.5" y="508.5" font-size="5.4" font-weight="bold" text-anchor="middle" fill="#111">0.16</text>
<text x="297" y="520.4" font-size="9.3" font-weight="bold" text-anchor="middle" fill="#111">Rich factor</text>
<text x="357.3" y="325.6" font-size="7.5" font-weight="bold" fill="#111">Padjust</text>
<rect x="360" y="329" width="8" height="39.5" fill="url(#gd)"/>
<path d="M368 336h1.5" stroke="#333" stroke-width=".6"/>
<text x="370" y="338.6" font-size="7.5" font-weight="bold" fill="#111">0.0400</text>
<path d="M368 345.4h1.5" stroke="#333" stroke-width=".6"/>
<text x="370" y="348.0" font-size="7.5" font-weight="bold" fill="#111">0.0350</text>
<path d="M368 354.7h1.5" stroke="#333" stroke-width=".6"/>
<text x="370" y="357.3" font-size="7.5" font-weight="bold" fill="#111">0.0300</text>
<path d="M368 363.8h1.5" stroke="#333" stroke-width=".6"/>
<text x="370" y="366.4" font-size="7.5" font-weight="bold" fill="#111">0.0250</text>
<text x="356.8" y="399.2" font-size="7.5" font-weight="bold" fill="#111">Type</text>
<circle cx="358.2" cy="404.8" r="3.1" fill="#111"/>
<text x="362.5" y="407.3" font-size="7.5" font-weight="bold" fill="#111">Metabolism</text>
<text x="355" y="439.2" font-size="7.5" font-weight="bold" fill="#111">Number</text>
<circle cx="357.3" cy="444.8" r="0.8" fill="#111"/>
<text x="363.8" y="446.5" font-size="7.5" font-weight="bold" fill="#111">8</text>
<circle cx="357.3" cy="453.6" r="1.6" fill="#111"/>
<text x="363.8" y="455.3" font-size="7.5" font-weight="bold" fill="#111">15</text>
<circle cx="357.3" cy="463.3" r="2.5" fill="#111"/>
<text x="363.8" y="465.0" font-size="7.5" font-weight="bold" fill="#111">22</text>
<circle cx="357.3" cy="472.6" r="3.3" fill="#111"/>
<text x="363.8" y="474.3" font-size="7.5" font-weight="bold" fill="#111">29</text>
<text x="411.8" y="290.4" font-size="20.5" fill="#111">e</text>
<text x="435.8" y="291.3" font-size="9.95" font-weight="bold" fill="#111" textLength="134" lengthAdjust="spacingAndGlyphs">Glycolysis/gluconeogenesis</text>
<rect x="437.60" y="301.60" width="22.47" height="14.02" fill="#4a90d9"/>
<rect x="459.77" y="301.60" width="22.47" height="14.02" fill="#3f8ad6"/>
<rect x="481.94" y="301.60" width="22.47" height="14.02" fill="#4890d8"/>
<rect x="504.11" y="301.60" width="22.47" height="14.02" fill="#2178cc"/>
<rect x="526.28" y="301.60" width="22.47" height="14.02" fill="#2a7ed0"/>
<rect x="548.45" y="301.60" width="22.47" height="14.02" fill="#2178cc"/>
<rect x="437.60" y="315.32" width="22.47" height="14.02" fill="#e34a3b"/>
<rect x="459.77" y="315.32" width="22.47" height="14.02" fill="#e24636"/>
<rect x="481.94" y="315.32" width="22.47" height="14.02" fill="#e24838"/>
<rect x="504.11" y="315.32" width="22.47" height="14.02" fill="#ffffff"/>
<rect x="526.28" y="315.32" width="22.47" height="14.02" fill="#f2f6fc"/>
<rect x="548.45" y="315.32" width="22.47" height="14.02" fill="#ffffff"/>
<rect x="437.60" y="329.04" width="22.47" height="14.02" fill="#fbdedb"/>
<rect x="459.77" y="329.04" width="22.47" height="14.02" fill="#fcdcd8"/>
<rect x="481.94" y="329.04" width="22.47" height="14.02" fill="#fcdad6"/>
<rect x="504.11" y="329.04" width="22.47" height="14.02" fill="#94c0e9"/>
<rect x="526.28" y="329.04" width="22.47" height="14.02" fill="#a8cbed"/>
<rect x="548.45" y="329.04" width="22.47" height="14.02" fill="#a8cbed"/>
<rect x="437.60" y="342.76" width="22.47" height="14.02" fill="#cfe1f4"/>
<rect x="459.77" y="342.76" width="22.47" height="14.02" fill="#e3eefa"/>
<rect x="481.94" y="342.76" width="22.47" height="14.02" fill="#dce9f8"/>
<rect x="504.11" y="342.76" width="22.47" height="14.02" fill="#a8cbed"/>
<rect x="526.28" y="342.76" width="22.47" height="14.02" fill="#86b7e6"/>
<rect x="548.45" y="342.76" width="22.47" height="14.02" fill="#86b7e6"/>
<text x="575.2" y="310.7" font-size="6" font-weight="bold" fill="#111">LOC103634230</text>
<text x="575.2" y="324.4" font-size="6" font-weight="bold" fill="#111">LOC542333</text>
<text x="575.2" y="338.1" font-size="6" font-weight="bold" fill="#111">LOC100280823</text>
<text x="575.2" y="351.8" font-size="6" font-weight="bold" fill="#111">LOC100283452</text>
<text transform="translate(450.3 362.1) rotate(-59)" font-size="6.3" font-weight="bold" text-anchor="end" fill="#111" stroke="#111" stroke-width=".25">NaCl/CDs_3</text>
<text transform="translate(472.5 362.1) rotate(-59)" font-size="6.3" font-weight="bold" text-anchor="end" fill="#111" stroke="#111" stroke-width=".25">NaCl/CDs_1</text>
<text transform="translate(494.6 362.1) rotate(-59)" font-size="6.3" font-weight="bold" text-anchor="end" fill="#111" stroke="#111" stroke-width=".25">NaCl/CDs_2</text>
<text transform="translate(516.8 362.1) rotate(-59)" font-size="6.3" font-weight="bold" text-anchor="end" fill="#111" stroke="#111" stroke-width=".25">NaCl_2</text>
<text transform="translate(539.0 362.1) rotate(-59)" font-size="6.3" font-weight="bold" text-anchor="end" fill="#111" stroke="#111" stroke-width=".25">NaCl_1</text>
<text transform="translate(561.1 362.1) rotate(-59)" font-size="6.3" font-weight="bold" text-anchor="end" fill="#111" stroke="#111" stroke-width=".25">NaCl_3</text>
<rect x="636.2" y="304" width="10" height="54.7" fill="url(#gh)"/>
<path d="M646.2 307.8h1.5" stroke="#333" stroke-width=".6"/>
<text x="649.7" y="310.6" font-size="7.8" font-weight="bold" fill="#111">1.5</text>
<path d="M646.2 324.9h1.5" stroke="#333" stroke-width=".6"/>
<text x="649.7" y="327.7" font-size="7.8" font-weight="bold" fill="#111">1</text>
<path d="M646.2 341.8h1.5" stroke="#333" stroke-width=".6"/>
<text x="649.7" y="344.6" font-size="7.8" font-weight="bold" fill="#111">0.5</text>
<path d="M646.2 358.3h1.5" stroke="#333" stroke-width=".6"/>
<text x="649.7" y="361.1" font-size="7.8" font-weight="bold" fill="#111">0</text>
<text x="416.6" y="416" font-size="20.5" fill="#111">f</text>
<text x="435.4" y="417.3" font-size="10" font-weight="bold" fill="#111" textLength="216.5" lengthAdjust="spacingAndGlyphs">Alanine, aspartate and glutamate metabolism</text>
<rect x="435.70" y="426.25" width="23.58" height="14.69" fill="#ef8e84"/>
<rect x="458.98" y="426.25" width="23.58" height="14.69" fill="#f4aca4"/>
<rect x="482.26" y="426.25" width="23.58" height="14.69" fill="#f4aca4"/>
<rect x="505.54" y="426.25" width="23.58" height="14.69" fill="#4a90d9"/>
<rect x="528.82" y="426.25" width="23.58" height="14.69" fill="#7aafe3"/>
<rect x="552.10" y="426.25" width="23.58" height="14.69" fill="#74abe2"/>
<rect x="435.70" y="440.64" width="23.58" height="14.69" fill="#f9cfca"/>
<rect x="458.98" y="440.64" width="23.58" height="14.69" fill="#fad3ce"/>
<rect x="482.26" y="440.64" width="23.58" height="14.69" fill="#fad5d0"/>
<rect x="505.54" y="440.64" width="23.58" height="14.69" fill="#eaf2fb"/>
<rect x="528.82" y="440.64" width="23.58" height="14.69" fill="#eef4fb"/>
<rect x="552.10" y="440.64" width="23.58" height="14.69" fill="#eef4fb"/>
<rect x="435.70" y="455.03" width="23.58" height="14.69" fill="#e34f40"/>
<rect x="458.98" y="455.03" width="23.58" height="14.69" fill="#e35142"/>
<rect x="482.26" y="455.03" width="23.58" height="14.69" fill="#e34d3e"/>
<rect x="505.54" y="455.03" width="23.58" height="14.69" fill="#fdeeec"/>
<rect x="528.82" y="455.03" width="23.58" height="14.69" fill="#fbdedb"/>
<rect x="552.10" y="455.03" width="23.58" height="14.69" fill="#fce4e1"/>
<rect x="435.70" y="469.42" width="23.58" height="14.69" fill="#cfe1f4"/>
<rect x="458.98" y="469.42" width="23.58" height="14.69" fill="#dce9f8"/>
<rect x="482.26" y="469.42" width="23.58" height="14.69" fill="#dce9f8"/>
<rect x="505.54" y="469.42" width="23.58" height="14.69" fill="#5e9fde"/>
<rect x="528.82" y="469.42" width="23.58" height="14.69" fill="#5799dc"/>
<rect x="552.10" y="469.42" width="23.58" height="14.69" fill="#5e9fde"/>
<rect x="435.70" y="483.81" width="23.58" height="14.69" fill="#94c0e9"/>
<rect x="458.98" y="483.81" width="23.58" height="14.69" fill="#8ab9e7"/>
<rect x="482.26" y="483.81" width="23.58" height="14.69" fill="#94c0e9"/>
<rect x="505.54" y="483.81" width="23.58" height="14.69" fill="#2a7ed0"/>
<rect x="528.82" y="483.81" width="23.58" height="14.69" fill="#2f81d1"/>
<rect x="552.10" y="483.81" width="23.58" height="14.69" fill="#2178cc"/>
<text x="580.2" y="435.5" font-size="6" font-weight="bold" fill="#111">LOC100192350</text>
<text x="580.2" y="449.9" font-size="6" font-weight="bold" fill="#111">LOC100193614</text>
<text x="580.2" y="464.3" font-size="6" font-weight="bold" fill="#111">LOC542400</text>
<text x="580.2" y="478.7" font-size="6" font-weight="bold" fill="#111">LOC100384793</text>
<text x="580.2" y="493.1" font-size="6" font-weight="bold" fill="#111">LOC103651348</text>
<text transform="translate(449.1 504.8) rotate(-59)" font-size="6.5" font-weight="bold" text-anchor="end" fill="#111" stroke="#111" stroke-width=".25">NaCl/CDs_2</text>
<text transform="translate(472.4 504.8) rotate(-59)" font-size="6.5" font-weight="bold" text-anchor="end" fill="#111" stroke="#111" stroke-width=".25">NaCl/CDs_1</text>
<text transform="translate(495.7 504.8) rotate(-59)" font-size="6.5" font-weight="bold" text-anchor="end" fill="#111" stroke="#111" stroke-width=".25">NaCl/CDs_3</text>
<text transform="translate(519.0 504.8) rotate(-59)" font-size="6.5" font-weight="bold" text-anchor="end" fill="#111" stroke="#111" stroke-width=".25">NaCl_3</text>
<text transform="translate(542.3 504.8) rotate(-59)" font-size="6.5" font-weight="bold" text-anchor="end" fill="#111" stroke="#111" stroke-width=".25">NaCl_1</text>
<text transform="translate(565.5 504.8) rotate(-59)" font-size="6.5" font-weight="bold" text-anchor="end" fill="#111" stroke="#111" stroke-width=".25">NaCl_2</text>
<rect x="637" y="430.2" width="10" height="53.4" fill="url(#gh)"/>
<path d="M647 433.5h1.5" stroke="#333" stroke-width=".6"/>
<text x="650.3" y="436.3" font-size="7.8" font-weight="bold" fill="#111">2.5</text>
<path d="M647 446.6h1.5" stroke="#333" stroke-width=".6"/>
<text x="650.3" y="449.4" font-size="7.8" font-weight="bold" fill="#111">2</text>
<path d="M647 460.5h1.5" stroke="#333" stroke-width=".6"/>
<text x="650.3" y="463.3" font-size="7.8" font-weight="bold" fill="#111">1.5</text>
<path d="M647 473.5h1.5" stroke="#333" stroke-width=".6"/>
<text x="650.3" y="476.3" font-size="7.8" font-weight="bold" fill="#111">1</text>
<text x="673.3" y="286.4" font-size="20" fill="#111">g</text>
<text x="695.4" y="293.1" font-size="10" font-weight="bold" fill="#111" textLength="146.8" lengthAdjust="spacingAndGlyphs">Phenylpropanoid biosynthesis</text>
<rect x="701.80" y="305.70" width="22.98" height="14.46" fill="#ef8e84"/>
<rect x="724.48" y="305.70" width="22.98" height="14.46" fill="#f09389"/>
<rect x="747.16" y="305.70" width="22.98" height="14.46" fill="#f19a90"/>
<rect x="769.84" y="305.70" width="22.98" height="14.46" fill="#e24636"/>
<rect x="792.52" y="305.70" width="22.98" height="14.46" fill="#e34a3b"/>
<rect x="815.20" y="305.70" width="22.98" height="14.46" fill="#e34d3e"/>
<rect x="701.80" y="319.86" width="22.98" height="14.46" fill="#3f8ad6"/>
<rect x="724.48" y="319.86" width="22.98" height="14.46" fill="#3a87d5"/>
<rect x="747.16" y="319.86" width="22.98" height="14.46" fill="#5799dc"/>
<rect x="769.84" y="319.86" width="22.98" height="14.46" fill="#2178cc"/>
<rect x="792.52" y="319.86" width="22.98" height="14.46" fill="#2a7ed0"/>
<rect x="815.20" y="319.86" width="22.98" height="14.46" fill="#2178cc"/>
<rect x="701.80" y="334.02" width="22.98" height="14.46" fill="#2f81d1"/>
<rect x="724.48" y="334.02" width="22.98" height="14.46" fill="#2f81d1"/>
<rect x="747.16" y="334.02" width="22.98" height="14.46" fill="#2f81d1"/>
<rect x="769.84" y="334.02" width="22.98" height="14.46" fill="#66a4df"/>
<rect x="792.52" y="334.02" width="22.98" height="14.46" fill="#5e9fde"/>
<rect x="815.20" y="334.02" width="22.98" height="14.46" fill="#4a90d9"/>
<rect x="701.80" y="348.18" width="22.98" height="14.46" fill="#86b7e6"/>
<rect x="724.48" y="348.18" width="22.98" height="14.46" fill="#86b7e6"/>
<rect x="747.16" y="348.18" width="22.98" height="14.46" fill="#86b7e6"/>
<rect x="769.84" y="348.18" width="22.98" height="14.46" fill="#a8cbed"/>
<rect x="792.52" y="348.18" width="22.98" height="14.46" fill="#b4d2ef"/>
<rect x="815.20" y="348.18" width="22.98" height="14.46" fill="#b8d5f0"/>
<rect x="701.80" y="362.34" width="22.98" height="14.46" fill="#5799dc"/>
<rect x="724.48" y="362.34" width="22.98" height="14.46" fill="#5e9fde"/>
<rect x="747.16" y="362.34" width="22.98" height="14.46" fill="#5e9fde"/>
<rect x="769.84" y="362.34" width="22.98" height="14.46" fill="#80b3e5"/>
<rect x="792.52" y="362.34" width="22.98" height="14.46" fill="#74abe2"/>
<rect x="815.20" y="362.34" width="22.98" height="14.46" fill="#8ab9e7"/>
<rect x="701.80" y="376.50" width="22.98" height="14.46" fill="#66a4df"/>
<rect x="724.48" y="376.50" width="22.98" height="14.46" fill="#5799dc"/>
<rect x="747.16" y="376.50" width="22.98" height="14.46" fill="#5e9fde"/>
<rect x="769.84" y="376.50" width="22.98" height="14.46" fill="#80b3e5"/>
<rect x="792.52" y="376.50" width="22.98" height="14.46" fill="#80b3e5"/>
<rect x="815.20" y="376.50" width="22.98" height="14.46" fill="#80b3e5"/>
<rect x="701.80" y="390.66" width="22.98" height="14.46" fill="#80b3e5"/>
<rect x="724.48" y="390.66" width="22.98" height="14.46" fill="#74abe2"/>
<rect x="747.16" y="390.66" width="22.98" height="14.46" fill="#7aafe3"/>
<rect x="769.84" y="390.66" width="22.98" height="14.46" fill="#4a90d9"/>
<rect x="792.52" y="390.66" width="22.98" height="14.46" fill="#2f81d1"/>
<rect x="815.20" y="390.66" width="22.98" height="14.46" fill="#2a7ed0"/>
<rect x="701.80" y="404.82" width="22.98" height="14.46" fill="#dce9f8"/>
<rect x="724.48" y="404.82" width="22.98" height="14.46" fill="#d5e5f6"/>
<rect x="747.16" y="404.82" width="22.98" height="14.46" fill="#e3eefa"/>
<rect x="769.84" y="404.82" width="22.98" height="14.46" fill="#94c0e9"/>
<rect x="792.52" y="404.82" width="22.98" height="14.46" fill="#8ab9e7"/>
<rect x="815.20" y="404.82" width="22.98" height="14.46" fill="#80b3e5"/>
<rect x="701.80" y="418.98" width="22.98" height="14.46" fill="#a8cbed"/>
<rect x="724.48" y="418.98" width="22.98" height="14.46" fill="#a0c7ec"/>
<rect x="747.16" y="418.98" width="22.98" height="14.46" fill="#a8cbed"/>
<rect x="769.84" y="418.98" width="22.98" height="14.46" fill="#2f81d1"/>
<rect x="792.52" y="418.98" width="22.98" height="14.46" fill="#5799dc"/>
<rect x="815.20" y="418.98" width="22.98" height="14.46" fill="#4a90d9"/>
<rect x="701.80" y="433.14" width="22.98" height="14.46" fill="#cfe1f4"/>
<rect x="724.48" y="433.14" width="22.98" height="14.46" fill="#cfe1f4"/>
<rect x="747.16" y="433.14" width="22.98" height="14.46" fill="#b4d2ef"/>
<rect x="769.84" y="433.14" width="22.98" height="14.46" fill="#2f81d1"/>
<rect x="792.52" y="433.14" width="22.98" height="14.46" fill="#5799dc"/>
<rect x="815.20" y="433.14" width="22.98" height="14.46" fill="#4a90d9"/>
<rect x="701.80" y="447.30" width="22.98" height="14.46" fill="#8ab9e7"/>
<rect x="724.48" y="447.30" width="22.98" height="14.46" fill="#80b3e5"/>
<rect x="747.16" y="447.30" width="22.98" height="14.46" fill="#86b7e6"/>
<rect x="769.84" y="447.30" width="22.98" height="14.46" fill="#4a90d9"/>
<rect x="792.52" y="447.30" width="22.98" height="14.46" fill="#4a90d9"/>
<rect x="815.20" y="447.30" width="22.98" height="14.46" fill="#3f8ad6"/>
<rect x="701.80" y="461.46" width="22.98" height="14.46" fill="#a8cbed"/>
<rect x="724.48" y="461.46" width="22.98" height="14.46" fill="#86b7e6"/>
<rect x="747.16" y="461.46" width="22.98" height="14.46" fill="#86b7e6"/>
<rect x="769.84" y="461.46" width="22.98" height="14.46" fill="#66a4df"/>
<rect x="792.52" y="461.46" width="22.98" height="14.46" fill="#4a90d9"/>
<rect x="815.20" y="461.46" width="22.98" height="14.46" fill="#4a90d9"/>
<text x="844" y="315.6" font-size="7.94" font-weight="bold" fill="#111">LOC100281286</text>
<text x="844" y="329.7" font-size="7.94" font-weight="bold" fill="#111">LOC542464</text>
<text x="844" y="343.9" font-size="7.94" font-weight="bold" fill="#111">LOC100276245</text>
<text x="844" y="358.1" font-size="7.94" font-weight="bold" fill="#111">LOC103628960</text>
<text x="844" y="372.2" font-size="7.94" font-weight="bold" fill="#111">LOC100191905</text>
<text x="844" y="386.4" font-size="7.94" font-weight="bold" fill="#111">LOC103651450</text>
<text x="844" y="400.5" font-size="7.94" font-weight="bold" fill="#111">LOC100193733</text>
<text x="844" y="414.7" font-size="7.94" font-weight="bold" fill="#111">LOC100501595</text>
<text x="844" y="428.9" font-size="7.94" font-weight="bold" fill="#111">LOC103631733</text>
<text x="844" y="443.0" font-size="7.94" font-weight="bold" fill="#111">LOC542505</text>
<text x="844" y="457.2" font-size="7.94" font-weight="bold" fill="#111">LOC100280077</text>
<text x="844" y="471.3" font-size="7.94" font-weight="bold" fill="#111">LOC100283382</text>
<text transform="translate(715.6 483.4) rotate(-57.5)" font-size="7.8" font-weight="bold" text-anchor="end" fill="#111" stroke="#111" stroke-width=".25">NaCl/CDs_2</text>
<text transform="translate(738.3 483.4) rotate(-57.5)" font-size="7.8" font-weight="bold" text-anchor="end" fill="#111" stroke="#111" stroke-width=".25">NaCl/CDs_1</text>
<text transform="translate(761.0 483.4) rotate(-57.5)" font-size="7.8" font-weight="bold" text-anchor="end" fill="#111" stroke="#111" stroke-width=".25">NaCl/CDs_3</text>
<text transform="translate(783.7 483.4) rotate(-57.5)" font-size="7.8" font-weight="bold" text-anchor="end" fill="#111" stroke="#111" stroke-width=".25">NaCl_2</text>
<text transform="translate(806.4 483.4) rotate(-57.5)" font-size="7.8" font-weight="bold" text-anchor="end" fill="#111" stroke="#111" stroke-width=".25">NaCl_1</text>
<text transform="translate(829.0 483.4) rotate(-57.5)" font-size="7.8" font-weight="bold" text-anchor="end" fill="#111" stroke="#111" stroke-width=".25">NaCl_3</text>
<rect x="914.7" y="304.3" width="11.5" height="58" fill="url(#gh)"/>
<path d="M926.2 309.7h1.5" stroke="#333" stroke-width=".6"/>
<text x="929.8" y="312.6" font-size="8" font-weight="bold" fill="#111">2</text>
<path d="M926.2 323.3h1.5" stroke="#333" stroke-width=".6"/>
<text x="929.8" y="326.2" font-size="8" font-weight="bold" fill="#111">1.5</text>
<path d="M926.2 336.6h1.5" stroke="#333" stroke-width=".6"/>
<text x="929.8" y="339.5" font-size="8" font-weight="bold" fill="#111">1</text>
<path d="M926.2 349.6h1.5" stroke="#333" stroke-width=".6"/>
<text x="929.8" y="352.5" font-size="8" font-weight="bold" fill="#111">0.5</text>
<path d="M926.2 362.1h1.5" stroke="#333" stroke-width=".6"/>
<text x="929.8" y="365.4" font-size="8" font-weight="bold" fill="#111">0</text>
</svg>
</body></html>
